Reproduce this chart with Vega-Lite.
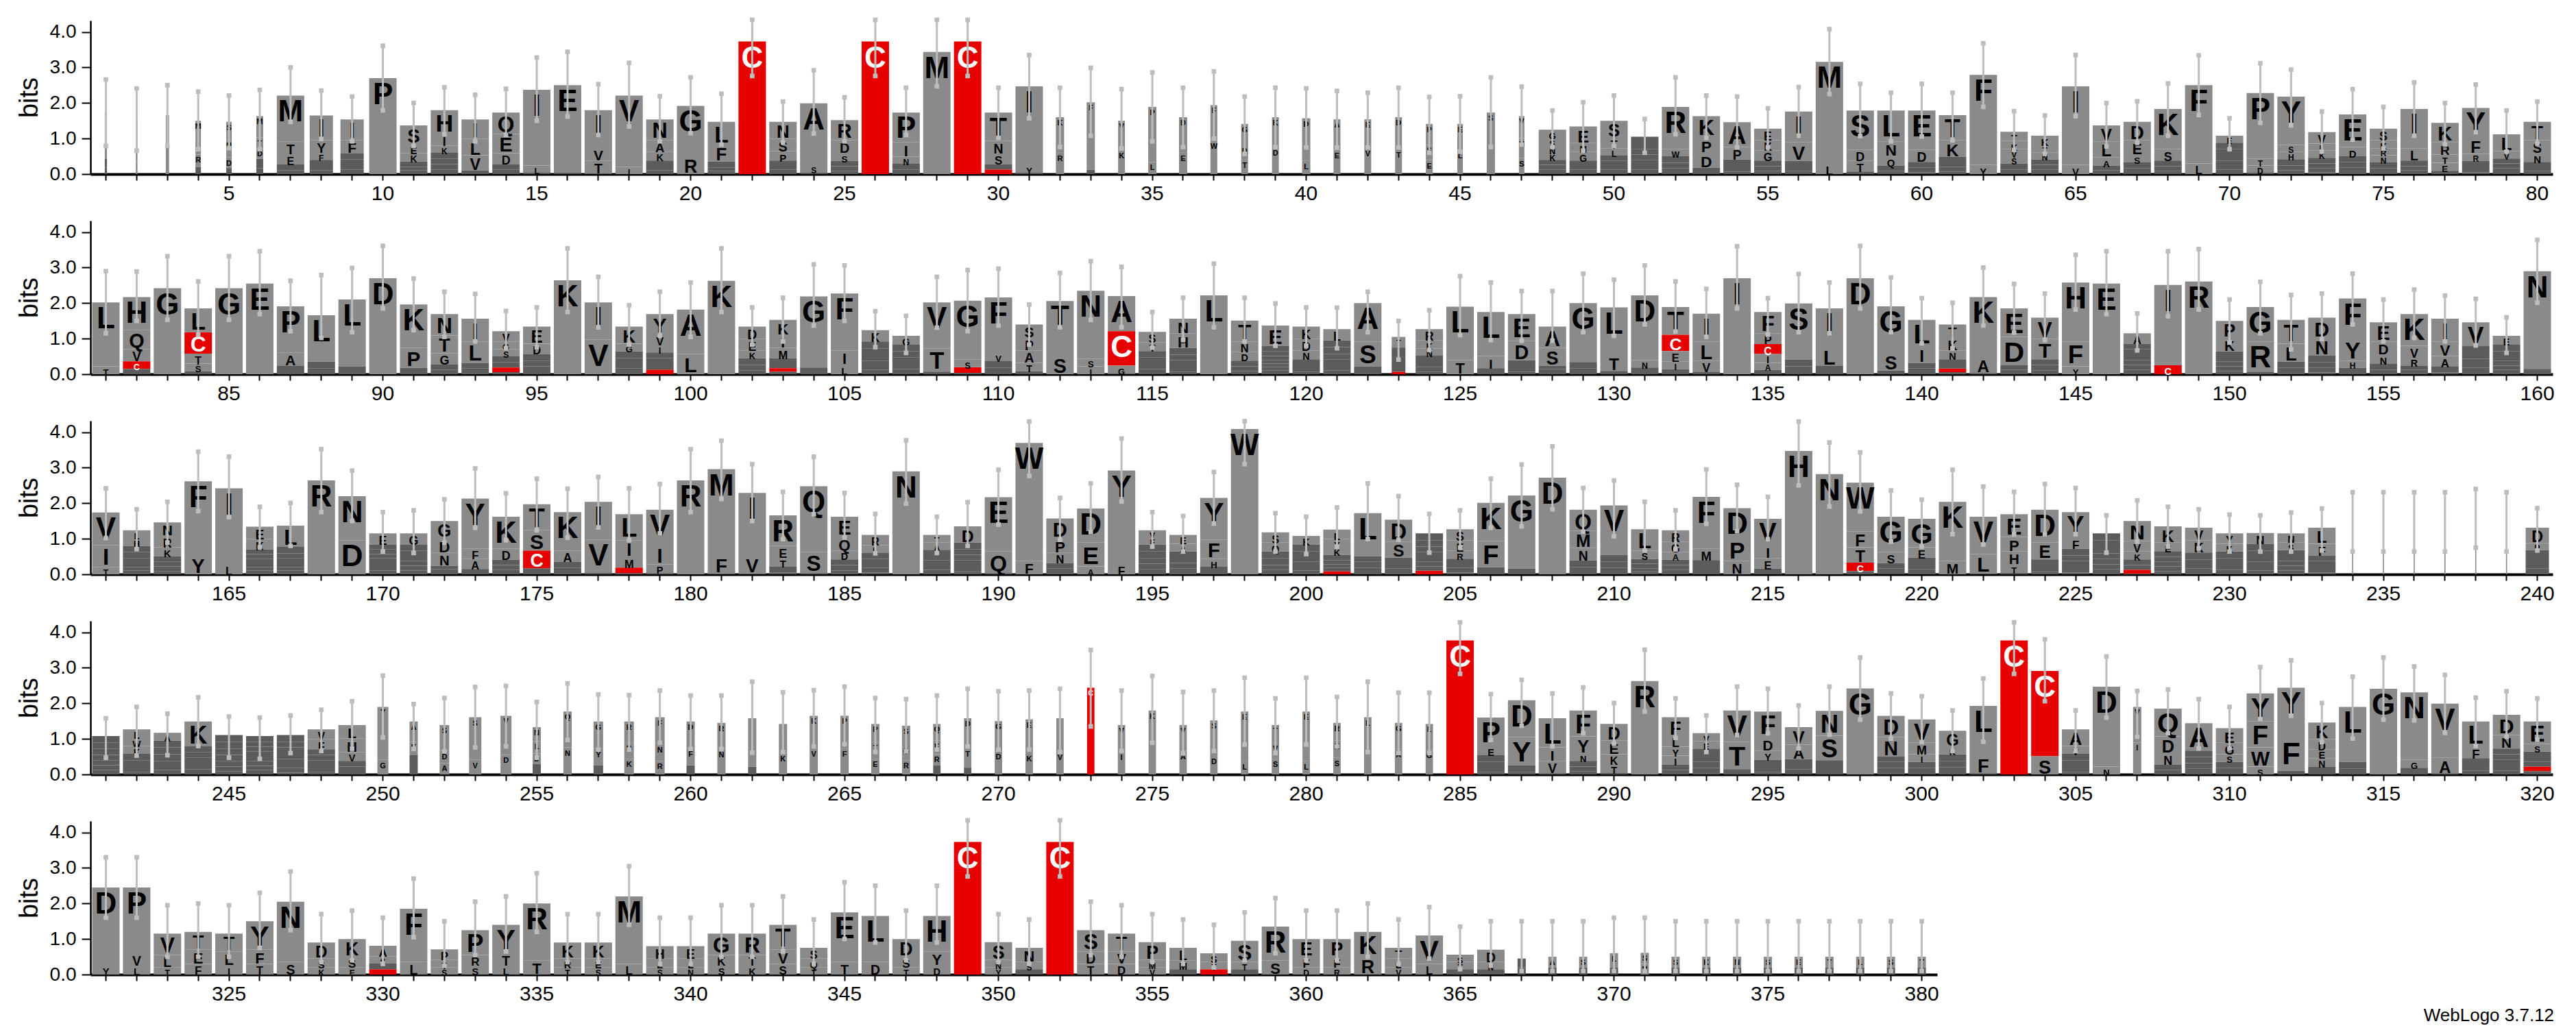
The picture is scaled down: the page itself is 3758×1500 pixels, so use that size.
{"$schema":"https://vega.github.io/schema/vega-lite/v6.json","padding":{"left":24,"top":25,"right":5,"bottom":5},"bounds":"flush","spacing":68,
"title":{"text":"WebLogo 3.7.12","orient":"bottom","anchor":"end","fontSize":26,"fontWeight":"normal","font":"Liberation Sans","color":"#000","offset":4},
"config":{"view":{"stroke":null},"font":"Liberation Sans","axis":{"grid":false,"domainColor":"#000","tickColor":"#000","labelColor":"#000","labelFont":"Liberation Sans","labelFontSize":28,"labelOverlap":false,"titleFont":"Liberation Sans","titleColor":"#000"},"axisX":{"domainWidth":4,"tickWidth":2,"tickSize":9,"labelPadding":4,"labelFlush":false,"labelAngle":0,"labelFontSize":30},"axisY":{"domainWidth":2.5,"tickWidth":2,"tickSize":13,"labelPadding":8,"titleFontSize":38,"titleFontWeight":"normal","titlePadding":10}},
"datasets":{
"L":[
{"p":1,"a":"I","h":1.3},{"p":1,"a":"L","h":0.25},{"p":1,"a":"V","h":0.18},
{"p":2,"a":"I","h":1.2},{"p":2,"a":"V","h":0.34},
{"p":3,"a":"M","h":1.1},{"p":3,"a":"T","h":0.56},
{"p":4,"a":"I","h":0.45},{"p":4,"a":"M","h":0.5},{"p":4,"a":"R","h":0.35},{"p":4,"a":"S","h":0.2},
{"p":5,"a":"N","h":0.5},{"p":5,"a":"D","h":0.3},{"p":5,"a":"S","h":0.5},{"p":5,"a":"P","h":0.17},
{"p":6,"a":"M","h":0.6},{"p":6,"a":"D","h":0.3},{"p":6,"a":"S","h":0.27},{"p":6,"a":"T","h":0.3},{"p":6,"a":"K","h":0.16},
{"p":7,"a":"M","h":1.3},{"p":7,"a":"T","h":0.35},{"p":7,"a":"E","h":0.28},{"p":7,"a":"I","h":0.18},{"p":7,"a":"V","h":0.1},
{"p":8,"a":"I","h":0.7},{"p":8,"a":"Y","h":0.35},{"p":8,"a":"F","h":0.2},{"p":8,"a":"L","h":0.15},{"p":8,"a":"S","h":0.1},{"p":8,"a":"V","h":0.15},
{"p":9,"a":"I","h":0.58},{"p":9,"a":"F","h":0.38},{"p":9,"a":"L","h":0.16},{"p":9,"a":"M","h":0.12},{"p":9,"a":"T","h":0.13},{"p":9,"a":"Y","h":0.17},
{"p":10,"a":"P","h":2.7},
{"p":11,"a":"S","h":0.52},{"p":11,"a":"E","h":0.26},{"p":11,"a":"K","h":0.24},{"p":11,"a":"D","h":0.1},{"p":11,"a":"N","h":0.1},{"p":11,"a":"R","h":0.15},
{"p":12,"a":"H","h":0.68},{"p":12,"a":"I","h":0.32},{"p":12,"a":"K","h":0.2},{"p":12,"a":"T","h":0.17},{"p":12,"a":"N","h":0.15},{"p":12,"a":"Y","h":0.13},{"p":12,"a":"S","h":0.15},
{"p":13,"a":"I","h":0.55},{"p":13,"a":"L","h":0.46},{"p":13,"a":"V","h":0.43},{"p":13,"a":"A","h":0.1},
{"p":14,"a":"Q","h":0.6},{"p":14,"a":"E","h":0.54},{"p":14,"a":"D","h":0.32},{"p":14,"a":"M","h":0.15},{"p":14,"a":"N","h":0.12},
{"p":15,"a":"I","h":2.13},{"p":15,"a":"L","h":0.2},{"p":15,"a":"V","h":0.04},
{"p":16,"a":"E","h":2.45},{"p":16,"a":"D","h":0.05},
{"p":17,"a":"I","h":1.05},{"p":17,"a":"T","h":0.35},{"p":17,"a":"V","h":0.38},{"p":17,"a":"L","h":0.02},
{"p":18,"a":"V","h":2.01},{"p":18,"a":"I","h":0.2},
{"p":19,"a":"N","h":0.58},{"p":19,"a":"A","h":0.33},{"p":19,"a":"K","h":0.25},{"p":19,"a":"H","h":0.15},{"p":19,"a":"S","h":0.12},{"p":19,"a":"T","h":0.11},
{"p":20,"a":"G","h":1.42},{"p":20,"a":"R","h":0.5},
{"p":21,"a":"L","h":0.64},{"p":21,"a":"F","h":0.48},{"p":21,"a":"A","h":0.17},{"p":21,"a":"T","h":0.1},{"p":21,"a":"S","h":0.08},
{"p":22,"a":"C","h":3.73},
{"p":23,"a":"N","h":0.48},{"p":23,"a":"S","h":0.35},{"p":23,"a":"P","h":0.26},{"p":23,"a":"D","h":0.13},{"p":23,"a":"T","h":0.13},{"p":23,"a":"A","h":0.12},
{"p":24,"a":"A","h":1.74},{"p":24,"a":"S","h":0.2},{"p":24,"a":"T","h":0.05},
{"p":25,"a":"R","h":0.56},{"p":25,"a":"D","h":0.36},{"p":25,"a":"S","h":0.23},{"p":25,"a":"H","h":0.15},{"p":25,"a":"N","h":0.13},{"p":25,"a":"K","h":0.09},
{"p":26,"a":"C","h":3.73},
{"p":27,"a":"P","h":0.84},{"p":27,"a":"I","h":0.4},{"p":27,"a":"N","h":0.2},{"p":27,"a":"V","h":0.13},{"p":27,"a":"T","h":0.16},
{"p":28,"a":"M","h":3.44},
{"p":29,"a":"C","h":3.73},
{"p":30,"a":"T","h":0.8},{"p":30,"a":"N","h":0.35},{"p":30,"a":"S","h":0.3},{"p":30,"a":"C","h":0.13},{"p":30,"a":"A","h":0.15},
{"p":31,"a":"I","h":2.2},{"p":31,"a":"Y","h":0.23},{"p":31,"a":"V","h":0.04},
{"p":32,"a":"K","h":1.0},{"p":32,"a":"R","h":0.6},
{"p":33,"a":"F","h":1.9},{"p":33,"a":"L","h":0.12},
{"p":34,"a":"V","h":0.82},{"p":34,"a":"K","h":0.68},
{"p":35,"a":"P","h":1.55},{"p":35,"a":"L","h":0.34},
{"p":36,"a":"D","h":1.0},{"p":36,"a":"E","h":0.6},
{"p":37,"a":"F","h":0.99},{"p":37,"a":"W","h":0.95},
{"p":38,"a":"G","h":0.6},{"p":38,"a":"T","h":0.4},{"p":38,"a":"D","h":0.41},
{"p":39,"a":"K","h":0.85},{"p":39,"a":"D","h":0.75},
{"p":40,"a":"D","h":1.2},{"p":40,"a":"L","h":0.37},
{"p":41,"a":"A","h":0.86},{"p":41,"a":"E","h":0.68},
{"p":42,"a":"E","h":0.8},{"p":42,"a":"V","h":0.74},
{"p":43,"a":"D","h":0.9},{"p":43,"a":"T","h":0.7},
{"p":44,"a":"P","h":0.59},{"p":44,"a":"E","h":0.39},{"p":44,"a":"S","h":0.43},
{"p":45,"a":"E","h":0.73},{"p":45,"a":"L","h":0.68},
{"p":46,"a":"S","h":1.73},
{"p":47,"a":"H","h":0.56},{"p":47,"a":"S","h":0.45},{"p":47,"a":"V","h":0.62},
{"p":48,"a":"G","h":0.23},{"p":48,"a":"K","h":0.2},{"p":48,"a":"N","h":0.21},{"p":48,"a":"D","h":0.14},{"p":48,"a":"E","h":0.13},{"p":48,"a":"H","h":0.13},{"p":48,"a":"S","h":0.21},
{"p":49,"a":"E","h":0.46},{"p":49,"a":"G","h":0.24},{"p":49,"a":"N","h":0.26},{"p":49,"a":"K","h":0.13},{"p":49,"a":"S","h":0.13},{"p":49,"a":"T","h":0.12},
{"p":50,"a":"S","h":0.48},{"p":50,"a":"T","h":0.3},{"p":50,"a":"I","h":0.13},{"p":50,"a":"M","h":0.12},{"p":50,"a":"Q","h":0.14},{"p":50,"a":"W","h":0.13},{"p":50,"a":"L","h":0.2},
{"p":51,"a":"A","h":0.16},{"p":51,"a":"P","h":0.16},{"p":51,"a":"R","h":0.15},{"p":51,"a":"S","h":0.18},{"p":51,"a":"T","h":0.13},{"p":51,"a":"L","h":0.12},{"p":51,"a":"V","h":0.15},
{"p":52,"a":"R","h":1.19},{"p":52,"a":"E","h":0.16},{"p":52,"a":"Q","h":0.16},{"p":52,"a":"T","h":0.18},{"p":52,"a":"W","h":0.2},
{"p":53,"a":"K","h":0.61},{"p":53,"a":"D","h":0.42},{"p":53,"a":"P","h":0.42},{"p":53,"a":"R","h":0.18},
{"p":54,"a":"A","h":0.7},{"p":54,"a":"P","h":0.35},{"p":54,"a":"K","h":0.18},{"p":54,"a":"R","h":0.16},{"p":54,"a":"S","h":0.07},
{"p":55,"a":"E","h":0.32},{"p":55,"a":"G","h":0.29},{"p":55,"a":"K","h":0.29},{"p":55,"a":"S","h":0.13},{"p":55,"a":"N","h":0.16},{"p":55,"a":"R","h":0.09},
{"p":56,"a":"I","h":0.87},{"p":56,"a":"V","h":0.52},{"p":56,"a":"F","h":0.13},{"p":56,"a":"L","h":0.16},{"p":56,"a":"E","h":0.08},
{"p":57,"a":"M","h":2.85},{"p":57,"a":"L","h":0.31},
{"p":58,"a":"S","h":1.1},{"p":58,"a":"D","h":0.32},{"p":58,"a":"T","h":0.3},{"p":58,"a":"N","h":0.07},
{"p":59,"a":"L","h":0.87},{"p":59,"a":"N","h":0.42},{"p":59,"a":"Q","h":0.26},{"p":59,"a":"Y","h":0.16},{"p":59,"a":"T","h":0.08},
{"p":60,"a":"E","h":1.1},{"p":60,"a":"D","h":0.35},{"p":60,"a":"I","h":0.13},{"p":60,"a":"K","h":0.16},{"p":60,"a":"Q","h":0.05},
{"p":61,"a":"T","h":0.71},{"p":61,"a":"K","h":0.46},{"p":61,"a":"D","h":0.13},{"p":61,"a":"M","h":0.16},{"p":61,"a":"N","h":0.13},{"p":61,"a":"Y","h":0.07},
{"p":62,"a":"F","h":2.53},{"p":62,"a":"Y","h":0.26},
{"p":63,"a":"T","h":0.26},{"p":63,"a":"K","h":0.23},{"p":63,"a":"S","h":0.2},{"p":63,"a":"E","h":0.18},{"p":63,"a":"M","h":0.12},{"p":63,"a":"V","h":0.2},
{"p":64,"a":"K","h":0.27},{"p":64,"a":"A","h":0.13},{"p":64,"a":"E","h":0.13},{"p":64,"a":"N","h":0.2},{"p":64,"a":"I","h":0.15},{"p":64,"a":"T","h":0.2},
{"p":65,"a":"I","h":2.21},{"p":65,"a":"V","h":0.26},
{"p":66,"a":"L","h":0.45},{"p":66,"a":"V","h":0.45},{"p":66,"a":"A","h":0.23},{"p":66,"a":"I","h":0.13},{"p":66,"a":"N","h":0.11},
{"p":67,"a":"D","h":0.52},{"p":67,"a":"E","h":0.39},{"p":67,"a":"S","h":0.23},{"p":67,"a":"K","h":0.13},{"p":67,"a":"N","h":0.16},{"p":67,"a":"T","h":0.04},
{"p":68,"a":"K","h":1.13},{"p":68,"a":"S","h":0.32},{"p":68,"a":"N","h":0.13},{"p":68,"a":"R","h":0.16},{"p":68,"a":"L","h":0.09},
{"p":69,"a":"F","h":2.2},{"p":69,"a":"L","h":0.3},
{"p":70,"a":"E","h":0.2},{"p":70,"a":"G","h":0.17},{"p":70,"a":"K","h":0.17},{"p":70,"a":"I","h":0.13},{"p":70,"a":"T","h":0.12},{"p":70,"a":"V","h":0.13},{"p":70,"a":"S","h":0.16},
{"p":71,"a":"P","h":1.84},{"p":71,"a":"D","h":0.2},{"p":71,"a":"T","h":0.2},{"p":71,"a":"N","h":0.04},
{"p":72,"a":"Y","h":1.36},{"p":72,"a":"H","h":0.2},{"p":72,"a":"I","h":0.18},{"p":72,"a":"N","h":0.13},{"p":72,"a":"S","h":0.2},{"p":72,"a":"L","h":0.11},
{"p":73,"a":"V","h":0.32},{"p":73,"a":"K","h":0.2},{"p":73,"a":"L","h":0.2},{"p":73,"a":"H","h":0.12},{"p":73,"a":"M","h":0.13},{"p":73,"a":"P","h":0.16},{"p":73,"a":"S","h":0.05},
{"p":74,"a":"E","h":0.92},{"p":74,"a":"D","h":0.26},{"p":74,"a":"G","h":0.15},{"p":74,"a":"H","h":0.16},{"p":74,"a":"Q","h":0.16},{"p":74,"a":"N","h":0.03},
{"p":75,"a":"S","h":0.32},{"p":75,"a":"K","h":0.23},{"p":75,"a":"N","h":0.2},{"p":75,"a":"R","h":0.2},{"p":75,"a":"Q","h":0.16},{"p":75,"a":"Y","h":0.13},{"p":75,"a":"D","h":0.04},
{"p":76,"a":"I","h":1.1},{"p":76,"a":"L","h":0.35},{"p":76,"a":"Q","h":0.12},{"p":76,"a":"E","h":0.1},{"p":76,"a":"V","h":0.16},
{"p":77,"a":"K","h":0.55},{"p":77,"a":"R","h":0.34},{"p":77,"a":"E","h":0.23},{"p":77,"a":"T","h":0.23},{"p":77,"a":"L","h":0.09},
{"p":78,"a":"Y","h":0.84},{"p":78,"a":"F","h":0.45},{"p":78,"a":"A","h":0.16},{"p":78,"a":"R","h":0.2},{"p":78,"a":"S","h":0.16},{"p":78,"a":"E","h":0.05},
{"p":79,"a":"L","h":0.48},{"p":79,"a":"T","h":0.13},{"p":79,"a":"V","h":0.2},{"p":79,"a":"E","h":0.13},{"p":79,"a":"H","h":0.14},{"p":79,"a":"S","h":0.04},
{"p":80,"a":"T","h":0.52},{"p":80,"a":"S","h":0.35},{"p":80,"a":"N","h":0.26},{"p":80,"a":"I","h":0.13},{"p":80,"a":"V","h":0.13},{"p":80,"a":"H","h":0.08},
{"p":81,"a":"L","h":1.8},{"p":81,"a":"T","h":0.22},
{"p":82,"a":"H","h":0.92},{"p":82,"a":"Q","h":0.54},{"p":82,"a":"V","h":0.35},{"p":82,"a":"C","h":0.21},{"p":82,"a":"T","h":0.15},
{"p":83,"a":"G","h":2.42},
{"p":84,"a":"C","h":0.6},{"p":84,"a":"L","h":0.67},{"p":84,"a":"T","h":0.28},{"p":84,"a":"S","h":0.22},{"p":84,"a":"I","h":0.08},
{"p":85,"a":"G","h":2.42},
{"p":86,"a":"E","h":2.55},
{"p":87,"a":"P","h":1.3},{"p":87,"a":"A","h":0.38},{"p":87,"a":"T","h":0.19},{"p":87,"a":"S","h":0.04},
{"p":88,"a":"L","h":1.31},{"p":88,"a":"I","h":0.16},{"p":88,"a":"M","h":0.19},
{"p":89,"a":"L","h":1.88},{"p":89,"a":"M","h":0.19},{"p":89,"a":"I","h":0.03},
{"p":90,"a":"D","h":2.7},
{"p":91,"a":"K","h":1.22},{"p":91,"a":"P","h":0.56},{"p":91,"a":"D","h":0.16},{"p":91,"a":"E","h":0.02},
{"p":92,"a":"N","h":0.6},{"p":92,"a":"T","h":0.5},{"p":92,"a":"G","h":0.32},{"p":92,"a":"R","h":0.15},{"p":92,"a":"Y","h":0.12},
{"p":93,"a":"I","h":0.64},{"p":93,"a":"L","h":0.6},{"p":93,"a":"R","h":0.16},{"p":93,"a":"Y","h":0.13},{"p":93,"a":"V","h":0.03},
{"p":94,"a":"V","h":0.29},{"p":94,"a":"G","h":0.22},{"p":94,"a":"S","h":0.2},{"p":94,"a":"A","h":0.15},{"p":94,"a":"C","h":0.13},{"p":94,"a":"F","h":0.16},{"p":94,"a":"T","h":0.06},
{"p":95,"a":"E","h":0.48},{"p":95,"a":"D","h":0.29},{"p":95,"a":"K","h":0.19},{"p":95,"a":"P","h":0.16},{"p":95,"a":"Y","h":0.16},{"p":95,"a":"S","h":0.06},
{"p":96,"a":"K","h":2.64},
{"p":97,"a":"I","h":1.05},{"p":97,"a":"V","h":0.97},
{"p":98,"a":"K","h":0.48},{"p":98,"a":"G","h":0.22},{"p":98,"a":"Q","h":0.19},{"p":98,"a":"A","h":0.16},{"p":98,"a":"N","h":0.13},{"p":98,"a":"R","h":0.13},{"p":98,"a":"S","h":0.03},
{"p":99,"a":"Y","h":0.57},{"p":99,"a":"I","h":0.22},{"p":99,"a":"V","h":0.29},{"p":99,"a":"C","h":0.13},{"p":99,"a":"F","h":0.16},{"p":99,"a":"M","h":0.16},{"p":99,"a":"L","h":0.16},
{"p":100,"a":"A","h":1.25},{"p":100,"a":"L","h":0.57},
{"p":101,"a":"K","h":2.63},
{"p":102,"a":"D","h":0.35},{"p":102,"a":"E","h":0.32},{"p":102,"a":"K","h":0.22},{"p":102,"a":"S","h":0.19},{"p":102,"a":"R","h":0.16},{"p":102,"a":"T","h":0.1},
{"p":103,"a":"I","h":0.38},{"p":103,"a":"K","h":0.41},{"p":103,"a":"M","h":0.29},{"p":103,"a":"A","h":0.12},{"p":103,"a":"C","h":0.1},{"p":103,"a":"R","h":0.16},{"p":103,"a":"S","h":0.07},
{"p":104,"a":"G","h":2.0},{"p":104,"a":"N","h":0.19},
{"p":105,"a":"F","h":1.6},{"p":105,"a":"I","h":0.4},{"p":105,"a":"L","h":0.27},
{"p":106,"a":"K","h":0.32},{"p":106,"a":"E","h":0.19},{"p":106,"a":"P","h":0.16},{"p":106,"a":"R","h":0.19},{"p":106,"a":"S","h":0.13},{"p":106,"a":"T","h":0.13},{"p":106,"a":"N","h":0.12},
{"p":107,"a":"G","h":0.25},{"p":107,"a":"E","h":0.18},{"p":107,"a":"S","h":0.18},{"p":107,"a":"N","h":0.16},{"p":107,"a":"T","h":0.15},{"p":107,"a":"D","h":0.16},
{"p":108,"a":"V","h":1.29},{"p":108,"a":"T","h":0.66},{"p":108,"a":"L","h":0.07},
{"p":109,"a":"G","h":1.66},{"p":109,"a":"C","h":0.16},{"p":109,"a":"S","h":0.21},{"p":109,"a":"A","h":0.04},
{"p":110,"a":"F","h":1.56},{"p":110,"a":"I","h":0.19},{"p":110,"a":"L","h":0.19},{"p":110,"a":"V","h":0.22},
{"p":111,"a":"A","h":0.35},{"p":111,"a":"P","h":0.35},{"p":111,"a":"S","h":0.38},{"p":111,"a":"T","h":0.24},{"p":111,"a":"V","h":0.08},
{"p":112,"a":"T","h":1.52},{"p":112,"a":"S","h":0.54},
{"p":113,"a":"N","h":1.91},{"p":113,"a":"I","h":0.22},{"p":113,"a":"S","h":0.22},
{"p":114,"a":"A","h":0.99},{"p":114,"a":"C","h":0.97},{"p":114,"a":"G","h":0.22},{"p":114,"a":"S","h":0.02},
{"p":115,"a":"S","h":0.29},{"p":115,"a":"T","h":0.25},{"p":115,"a":"V","h":0.18},{"p":115,"a":"A","h":0.15},{"p":115,"a":"H","h":0.16},{"p":115,"a":"N","h":0.16},
{"p":116,"a":"H","h":0.41},{"p":116,"a":"N","h":0.41},{"p":116,"a":"A","h":0.19},{"p":116,"a":"E","h":0.16},{"p":116,"a":"L","h":0.16},{"p":116,"a":"M","h":0.16},{"p":116,"a":"S","h":0.07},
{"p":117,"a":"L","h":2.22},
{"p":118,"a":"T","h":0.59},{"p":118,"a":"D","h":0.25},{"p":118,"a":"N","h":0.29},{"p":118,"a":"E","h":0.13},{"p":118,"a":"S","h":0.16},{"p":118,"a":"K","h":0.09},
{"p":119,"a":"E","h":0.57},{"p":119,"a":"A","h":0.16},{"p":119,"a":"D","h":0.1},{"p":119,"a":"R","h":0.1},{"p":119,"a":"K","h":0.1},{"p":119,"a":"T","h":0.1},{"p":119,"a":"Y","h":0.13},{"p":119,"a":"S","h":0.11},
{"p":120,"a":"D","h":0.32},{"p":120,"a":"K","h":0.35},{"p":120,"a":"N","h":0.25},{"p":120,"a":"E","h":0.19},{"p":120,"a":"R","h":0.16},{"p":120,"a":"S","h":0.07},
{"p":121,"a":"L","h":0.32},{"p":121,"a":"M","h":0.19},{"p":121,"a":"R","h":0.19},{"p":121,"a":"V","h":0.16},{"p":121,"a":"I","h":0.1},{"p":121,"a":"K","h":0.16},{"p":121,"a":"S","h":0.15},
{"p":122,"a":"A","h":1.08},{"p":122,"a":"S","h":0.7},{"p":122,"a":"T","h":0.19},{"p":122,"a":"I","h":0.03},
{"p":123,"a":"T","h":0.3},{"p":123,"a":"C","h":0.07},{"p":123,"a":"I","h":0.25},{"p":123,"a":"V","h":0.2},{"p":123,"a":"S","h":0.23},
{"p":124,"a":"R","h":0.32},{"p":124,"a":"E","h":0.19},{"p":124,"a":"K","h":0.22},{"p":124,"a":"N","h":0.21},{"p":124,"a":"S","h":0.13},{"p":124,"a":"T","h":0.13},{"p":124,"a":"Q","h":0.07},
{"p":125,"a":"L","h":1.5},{"p":125,"a":"T","h":0.4},
{"p":126,"a":"L","h":1.24},{"p":126,"a":"I","h":0.34},{"p":126,"a":"F","h":0.17},
{"p":127,"a":"E","h":0.76},{"p":127,"a":"D","h":0.54},{"p":127,"a":"A","h":0.16},{"p":127,"a":"Q","h":0.16},{"p":127,"a":"S","h":0.07},
{"p":128,"a":"A","h":0.6},{"p":128,"a":"S","h":0.5},{"p":128,"a":"T","h":0.1},{"p":128,"a":"K","h":0.1},{"p":128,"a":"Q","h":0.04},
{"p":129,"a":"G","h":1.66},{"p":129,"a":"D","h":0.18},{"p":129,"a":"K","h":0.16},
{"p":130,"a":"L","h":1.34},{"p":130,"a":"T","h":0.45},{"p":130,"a":"V","h":0.09},
{"p":131,"a":"D","h":1.82},{"p":131,"a":"N","h":0.21},{"p":131,"a":"S","h":0.19},
{"p":132,"a":"T","h":0.78},{"p":132,"a":"C","h":0.46},{"p":132,"a":"E","h":0.29},{"p":132,"a":"I","h":0.22},{"p":132,"a":"V","h":0.14},
{"p":133,"a":"I","h":0.78},{"p":133,"a":"L","h":0.54},{"p":133,"a":"V","h":0.32},{"p":133,"a":"F","h":0.06},
{"p":134,"a":"I","h":2.7},
{"p":135,"a":"F","h":0.6},{"p":135,"a":"C","h":0.28},{"p":135,"a":"I","h":0.25},{"p":135,"a":"P","h":0.3},{"p":135,"a":"A","h":0.2},{"p":135,"a":"G","h":0.12},
{"p":136,"a":"S","h":1.58},{"p":136,"a":"A","h":0.16},{"p":136,"a":"G","h":0.19},{"p":136,"a":"V","h":0.06},
{"p":137,"a":"I","h":1.08},{"p":137,"a":"L","h":0.54},{"p":137,"a":"V","h":0.19},{"p":137,"a":"A","h":0.04},
{"p":138,"a":"D","h":2.7},
{"p":139,"a":"G","h":1.31},{"p":139,"a":"S","h":0.5},{"p":139,"a":"M","h":0.1},
{"p":140,"a":"L","h":0.76},{"p":140,"a":"I","h":0.45},{"p":140,"a":"F","h":0.16},{"p":140,"a":"M","h":0.16},
{"p":141,"a":"K","h":0.35},{"p":141,"a":"T","h":0.38},{"p":141,"a":"N","h":0.25},{"p":141,"a":"C","h":0.1},{"p":141,"a":"R","h":0.13},{"p":141,"a":"S","h":0.13},{"p":141,"a":"E","h":0.06},
{"p":142,"a":"K","h":1.69},{"p":142,"a":"A","h":0.45},{"p":142,"a":"S","h":0.03},
{"p":143,"a":"D","h":0.8},{"p":143,"a":"E","h":0.8},{"p":143,"a":"A","h":0.13},{"p":143,"a":"R","h":0.12},
{"p":144,"a":"V","h":0.6},{"p":144,"a":"T","h":0.57},{"p":144,"a":"A","h":0.16},{"p":144,"a":"R","h":0.16},{"p":144,"a":"Y","h":0.1},
{"p":145,"a":"H","h":1.66},{"p":145,"a":"F","h":0.7},{"p":145,"a":"Y","h":0.22},
{"p":146,"a":"E","h":2.55},
{"p":147,"a":"A","h":0.29},{"p":147,"a":"G","h":0.16},{"p":147,"a":"Q","h":0.14},{"p":147,"a":"S","h":0.13},{"p":147,"a":"K","h":0.13},{"p":147,"a":"T","h":0.16},{"p":147,"a":"N","h":0.14},
{"p":148,"a":"I","h":2.26},{"p":148,"a":"C","h":0.25},
{"p":149,"a":"R","h":2.61},
{"p":150,"a":"P","h":0.48},{"p":150,"a":"K","h":0.38},{"p":150,"a":"I","h":0.13},{"p":150,"a":"M","h":0.13},{"p":150,"a":"Q","h":0.13},{"p":150,"a":"R","h":0.16},{"p":150,"a":"S","h":0.09},
{"p":151,"a":"G","h":0.97},{"p":151,"a":"R","h":0.86},{"p":151,"a":"K","h":0.06},
{"p":152,"a":"T","h":0.67},{"p":152,"a":"L","h":0.51},{"p":152,"a":"I","h":0.16},{"p":152,"a":"Y","h":0.16},{"p":152,"a":"S","h":0.03},
{"p":153,"a":"D","h":0.57},{"p":153,"a":"N","h":0.5},{"p":153,"a":"K","h":0.18},{"p":153,"a":"S","h":0.13},{"p":153,"a":"Y","h":0.16},{"p":153,"a":"R","h":0.05},
{"p":154,"a":"F","h":1.11},{"p":154,"a":"Y","h":0.64},{"p":154,"a":"H","h":0.2},{"p":154,"a":"R","h":0.16},{"p":154,"a":"N","h":0.02},
{"p":155,"a":"E","h":0.54},{"p":155,"a":"D","h":0.38},{"p":155,"a":"N","h":0.25},{"p":155,"a":"Q","h":0.13},{"p":155,"a":"T","h":0.16},
{"p":156,"a":"K","h":0.89},{"p":156,"a":"R","h":0.25},{"p":156,"a":"V","h":0.32},{"p":156,"a":"Q","h":0.1},{"p":156,"a":"T","h":0.1},{"p":156,"a":"E","h":0.03},
{"p":157,"a":"I","h":0.64},{"p":157,"a":"V","h":0.41},{"p":157,"a":"A","h":0.3},{"p":157,"a":"T","h":0.16},{"p":157,"a":"Q","h":0.05},
{"p":158,"a":"V","h":0.67},{"p":158,"a":"I","h":0.12},{"p":158,"a":"K","h":0.13},{"p":158,"a":"L","h":0.19},{"p":158,"a":"M","h":0.16},{"p":158,"a":"Y","h":0.13},{"p":158,"a":"E","h":0.06},
{"p":159,"a":"E","h":0.25},{"p":159,"a":"K","h":0.19},{"p":159,"a":"I","h":0.14},{"p":159,"a":"V","h":0.13},{"p":159,"a":"H","h":0.12},{"p":159,"a":"S","h":0.13},{"p":159,"a":"D","h":0.12},
{"p":160,"a":"N","h":2.75},{"p":160,"a":"T","h":0.15},
{"p":161,"a":"V","h":0.92},{"p":161,"a":"I","h":0.62},{"p":161,"a":"T","h":0.2},
{"p":162,"a":"E","h":0.16},{"p":162,"a":"H","h":0.22},{"p":162,"a":"K","h":0.18},{"p":162,"a":"L","h":0.22},{"p":162,"a":"D","h":0.1},{"p":162,"a":"S","h":0.13},{"p":162,"a":"R","h":0.13},{"p":162,"a":"A","h":0.1},
{"p":163,"a":"N","h":0.38},{"p":163,"a":"R","h":0.32},{"p":163,"a":"K","h":0.25},{"p":163,"a":"D","h":0.13},{"p":163,"a":"F","h":0.16},{"p":163,"a":"M","h":0.13},{"p":163,"a":"Q","h":0.09},
{"p":164,"a":"F","h":2.08},{"p":164,"a":"Y","h":0.54},
{"p":165,"a":"I","h":2.13},{"p":165,"a":"L","h":0.29},
{"p":166,"a":"E","h":0.35},{"p":166,"a":"L","h":0.1},{"p":166,"a":"K","h":0.29},{"p":166,"a":"D","h":0.13},{"p":166,"a":"M","h":0.13},{"p":166,"a":"N","h":0.1},{"p":166,"a":"Q","h":0.13},{"p":166,"a":"R","h":0.11},
{"p":167,"a":"L","h":0.6},{"p":167,"a":"T","h":0.13},{"p":167,"a":"K","h":0.1},{"p":167,"a":"Q","h":0.1},{"p":167,"a":"R","h":0.13},{"p":167,"a":"Y","h":0.13},{"p":167,"a":"I","h":0.18},
{"p":168,"a":"R","h":2.64},
{"p":169,"a":"N","h":1.24},{"p":169,"a":"D","h":0.96},
{"p":170,"a":"E","h":0.32},{"p":170,"a":"G","h":0.13},{"p":170,"a":"A","h":0.13},{"p":170,"a":"S","h":0.12},{"p":170,"a":"N","h":0.12},{"p":170,"a":"K","h":0.12},{"p":170,"a":"R","h":0.11},{"p":170,"a":"D","h":0.1},
{"p":171,"a":"G","h":0.32},{"p":171,"a":"L","h":0.16},{"p":171,"a":"H","h":0.15},{"p":171,"a":"I","h":0.15},{"p":171,"a":"K","h":0.13},{"p":171,"a":"T","h":0.13},{"p":171,"a":"S","h":0.11},
{"p":172,"a":"G","h":0.48},{"p":172,"a":"D","h":0.41},{"p":172,"a":"N","h":0.37},{"p":172,"a":"H","h":0.1},{"p":172,"a":"K","h":0.1},{"p":172,"a":"T","h":0.04},
{"p":173,"a":"Y","h":1.4},{"p":173,"a":"A","h":0.29},{"p":173,"a":"F","h":0.29},{"p":173,"a":"G","h":0.15},
{"p":174,"a":"K","h":0.89},{"p":174,"a":"D","h":0.32},{"p":174,"a":"A","h":0.13},{"p":174,"a":"E","h":0.13},{"p":174,"a":"N","h":0.15},
{"p":175,"a":"T","h":0.73},{"p":175,"a":"C","h":0.5},{"p":175,"a":"S","h":0.57},{"p":175,"a":"K","h":0.17},
{"p":176,"a":"K","h":1.08},{"p":176,"a":"A","h":0.32},{"p":176,"a":"R","h":0.16},{"p":176,"a":"T","h":0.16},{"p":176,"a":"S","h":0.03},
{"p":177,"a":"I","h":1.06},{"p":177,"a":"V","h":0.94},{"p":177,"a":"L","h":0.04},
{"p":178,"a":"L","h":0.73},{"p":178,"a":"I","h":0.48},{"p":178,"a":"M","h":0.29},{"p":178,"a":"C","h":0.16},{"p":178,"a":"V","h":0.03},
{"p":179,"a":"V","h":0.99},{"p":179,"a":"I","h":0.55},{"p":179,"a":"P","h":0.25},{"p":179,"a":"L","h":0.03},
{"p":180,"a":"R","h":2.64},
{"p":181,"a":"M","h":2.42},{"p":181,"a":"F","h":0.52},{"p":181,"a":"L","h":0.02},
{"p":182,"a":"I","h":1.75},{"p":182,"a":"V","h":0.52},{"p":182,"a":"L","h":0.02},
{"p":183,"a":"R","h":0.86},{"p":183,"a":"E","h":0.32},{"p":183,"a":"T","h":0.27},{"p":183,"a":"L","h":0.16},{"p":183,"a":"K","h":0.05},
{"p":184,"a":"Q","h":1.85},{"p":184,"a":"S","h":0.6},{"p":184,"a":"E","h":0.03},
{"p":185,"a":"E","h":0.54},{"p":185,"a":"Q","h":0.41},{"p":185,"a":"D","h":0.25},{"p":185,"a":"H","h":0.16},{"p":185,"a":"M","h":0.16},{"p":185,"a":"K","h":0.1},
{"p":186,"a":"L","h":0.22},{"p":186,"a":"R","h":0.29},{"p":186,"a":"S","h":0.16},{"p":186,"a":"K","h":0.13},{"p":186,"a":"E","h":0.13},{"p":186,"a":"T","h":0.13},{"p":186,"a":"D","h":0.05},
{"p":187,"a":"N","h":2.9},
{"p":188,"a":"T","h":0.22},{"p":188,"a":"A","h":0.2},{"p":188,"a":"N","h":0.15},{"p":188,"a":"S","h":0.15},{"p":188,"a":"E","h":0.12},{"p":188,"a":"V","h":0.13},{"p":188,"a":"Y","h":0.14},
{"p":189,"a":"D","h":0.46},{"p":189,"a":"H","h":0.18},{"p":189,"a":"A","h":0.16},{"p":189,"a":"L","h":0.16},{"p":189,"a":"S","h":0.16},{"p":189,"a":"T","h":0.16},{"p":189,"a":"E","h":0.07},
{"p":190,"a":"E","h":1.53},{"p":190,"a":"Q","h":0.61},{"p":190,"a":"D","h":0.03},
{"p":191,"a":"W","h":3.32},{"p":191,"a":"F","h":0.38},
{"p":192,"a":"D","h":0.55},{"p":192,"a":"P","h":0.41},{"p":192,"a":"N","h":0.29},{"p":192,"a":"E","h":0.16},{"p":192,"a":"Q","h":0.13},{"p":192,"a":"S","h":0.03},
{"p":193,"a":"D","h":0.96},{"p":193,"a":"E","h":0.67},{"p":193,"a":"A","h":0.22},
{"p":194,"a":"Y","h":2.61},{"p":194,"a":"F","h":0.31},
{"p":195,"a":"F","h":0.2},{"p":195,"a":"N","h":0.19},{"p":195,"a":"R","h":0.19},{"p":195,"a":"V","h":0.2},{"p":195,"a":"K","h":0.15},{"p":195,"a":"S","h":0.15},{"p":195,"a":"T","h":0.16},
{"p":196,"a":"E","h":0.25},{"p":196,"a":"A","h":0.22},{"p":196,"a":"T","h":0.16},{"p":196,"a":"R","h":0.16},{"p":196,"a":"S","h":0.16},{"p":196,"a":"V","h":0.13},{"p":196,"a":"K","h":0.03},
{"p":197,"a":"Y","h":1.17},{"p":197,"a":"F","h":0.55},{"p":197,"a":"H","h":0.22},{"p":197,"a":"L","h":0.19},{"p":197,"a":"N","h":0.02},
{"p":198,"a":"W","h":4.09},
{"p":199,"a":"S","h":0.29},{"p":199,"a":"Q","h":0.25},{"p":199,"a":"R","h":0.19},{"p":199,"a":"E","h":0.19},{"p":199,"a":"T","h":0.13},{"p":199,"a":"D","h":0.13},
{"p":200,"a":"K","h":0.25},{"p":200,"a":"G","h":0.19},{"p":200,"a":"S","h":0.16},{"p":200,"a":"N","h":0.13},{"p":200,"a":"E","h":0.12},{"p":200,"a":"T","h":0.12},{"p":200,"a":"R","h":0.11},
{"p":201,"a":"L","h":0.27},{"p":201,"a":"K","h":0.22},{"p":201,"a":"Y","h":0.22},{"p":201,"a":"A","h":0.1},{"p":201,"a":"C","h":0.08},{"p":201,"a":"S","h":0.15},{"p":201,"a":"G","h":0.12},{"p":201,"a":"D","h":0.1},
{"p":202,"a":"L","h":1.21},{"p":202,"a":"I","h":0.16},{"p":202,"a":"M","h":0.15},{"p":202,"a":"V","h":0.16},{"p":202,"a":"T","h":0.04},
{"p":203,"a":"D","h":0.62},{"p":203,"a":"S","h":0.45},{"p":203,"a":"N","h":0.15},{"p":203,"a":"R","h":0.13},{"p":203,"a":"T","h":0.16},{"p":203,"a":"K","h":0.03},
{"p":204,"a":"P","h":0.19},{"p":204,"a":"S","h":0.18},{"p":204,"a":"C","h":0.1},{"p":204,"a":"H","h":0.12},{"p":204,"a":"N","h":0.13},{"p":204,"a":"T","h":0.13},{"p":204,"a":"E","h":0.15},{"p":204,"a":"G","h":0.15},
{"p":205,"a":"E","h":0.29},{"p":205,"a":"S","h":0.32},{"p":205,"a":"R","h":0.22},{"p":205,"a":"K","h":0.13},{"p":205,"a":"N","h":0.13},{"p":205,"a":"T","h":0.13},{"p":205,"a":"Q","h":0.05},
{"p":206,"a":"K","h":1.08},{"p":206,"a":"F","h":0.73},{"p":206,"a":"R","h":0.16},{"p":206,"a":"N","h":0.04},
{"p":207,"a":"G","h":2.06},{"p":207,"a":"N","h":0.16},
{"p":208,"a":"D","h":2.72},
{"p":209,"a":"Q","h":0.6},{"p":209,"a":"M","h":0.48},{"p":209,"a":"N","h":0.35},{"p":209,"a":"E","h":0.19},{"p":209,"a":"K","h":0.16},{"p":209,"a":"T","h":0.04},
{"p":210,"a":"V","h":1.4},{"p":210,"a":"F","h":0.17},{"p":210,"a":"I","h":0.16},{"p":210,"a":"L","h":0.19},{"p":210,"a":"A","h":0.02},
{"p":211,"a":"L","h":0.6},{"p":211,"a":"S","h":0.24},{"p":211,"a":"A","h":0.13},{"p":211,"a":"V","h":0.13},{"p":211,"a":"I","h":0.1},{"p":211,"a":"T","h":0.07},
{"p":212,"a":"G","h":0.29},{"p":212,"a":"R","h":0.32},{"p":212,"a":"A","h":0.22},{"p":212,"a":"V","h":0.15},{"p":212,"a":"L","h":0.13},{"p":212,"a":"Y","h":0.13},
{"p":213,"a":"F","h":1.45},{"p":213,"a":"M","h":0.33},{"p":213,"a":"L","h":0.19},{"p":213,"a":"Y","h":0.19},{"p":213,"a":"W","h":0.02},
{"p":214,"a":"D","h":0.84},{"p":214,"a":"P","h":0.64},{"p":214,"a":"N","h":0.38},
{"p":215,"a":"V","h":0.73},{"p":215,"a":"I","h":0.38},{"p":215,"a":"E","h":0.29},{"p":215,"a":"R","h":0.16},
{"p":216,"a":"H","h":3.47},
{"p":217,"a":"N","h":2.82},
{"p":218,"a":"W","h":1.37},{"p":218,"a":"F","h":0.45},{"p":218,"a":"T","h":0.43},{"p":218,"a":"C","h":0.24},{"p":218,"a":"Y","h":0.09},
{"p":219,"a":"G","h":0.99},{"p":219,"a":"S","h":0.31},{"p":219,"a":"A","h":0.15},{"p":219,"a":"D","h":0.16},{"p":219,"a":"E","h":0.01},
{"p":220,"a":"G","h":0.8},{"p":220,"a":"E","h":0.29},{"p":220,"a":"D","h":0.13},{"p":220,"a":"Q","h":0.16},{"p":220,"a":"S","h":0.16},{"p":220,"a":"N","h":0.02},
{"p":221,"a":"K","h":1.66},{"p":221,"a":"M","h":0.38},
{"p":222,"a":"V","h":1.05},{"p":222,"a":"L","h":0.56},{"p":222,"a":"I","h":0.01},
{"p":223,"a":"E","h":0.64},{"p":223,"a":"H","h":0.38},{"p":223,"a":"P","h":0.4},{"p":223,"a":"T","h":0.22},{"p":223,"a":"N","h":0.05},
{"p":224,"a":"D","h":0.92},{"p":224,"a":"E","h":0.48},{"p":224,"a":"H","h":0.19},{"p":224,"a":"N","h":0.16},{"p":224,"a":"K","h":0.07},
{"p":225,"a":"Y","h":0.73},{"p":225,"a":"F","h":0.3},{"p":225,"a":"A","h":0.16},{"p":225,"a":"D","h":0.16},{"p":225,"a":"H","h":0.19},{"p":225,"a":"K","h":0.16},{"p":225,"a":"N","h":0.05},
{"p":226,"a":"D","h":0.19},{"p":226,"a":"E","h":0.18},{"p":226,"a":"G","h":0.16},{"p":226,"a":"P","h":0.19},{"p":226,"a":"H","h":0.15},{"p":226,"a":"N","h":0.14},{"p":226,"a":"K","h":0.14},
{"p":227,"a":"N","h":0.57},{"p":227,"a":"K","h":0.22},{"p":227,"a":"V","h":0.29},{"p":227,"a":"C","h":0.11},{"p":227,"a":"D","h":0.13},{"p":227,"a":"T","h":0.16},{"p":227,"a":"L","h":0.02},
{"p":228,"a":"K","h":0.46},{"p":228,"a":"E","h":0.24},{"p":228,"a":"A","h":0.16},{"p":228,"a":"S","h":0.14},{"p":228,"a":"M","h":0.13},{"p":228,"a":"N","h":0.13},{"p":228,"a":"T","h":0.09},
{"p":229,"a":"K","h":0.35},{"p":229,"a":"V","h":0.35},{"p":229,"a":"I","h":0.19},{"p":229,"a":"D","h":0.13},{"p":229,"a":"Q","h":0.13},{"p":229,"a":"R","h":0.13},{"p":229,"a":"S","h":0.03},
{"p":230,"a":"Y","h":0.29},{"p":230,"a":"I","h":0.16},{"p":230,"a":"K","h":0.22},{"p":230,"a":"A","h":0.13},{"p":230,"a":"P","h":0.19},{"p":230,"a":"T","h":0.16},
{"p":231,"a":"N","h":0.3},{"p":231,"a":"E","h":0.19},{"p":231,"a":"S","h":0.19},{"p":231,"a":"H","h":0.13},{"p":231,"a":"I","h":0.12},{"p":231,"a":"T","h":0.12},{"p":231,"a":"R","h":0.11},
{"p":232,"a":"N","h":0.25},{"p":232,"a":"D","h":0.18},{"p":232,"a":"S","h":0.22},{"p":232,"a":"H","h":0.13},{"p":232,"a":"K","h":0.13},{"p":232,"a":"T","h":0.13},{"p":232,"a":"R","h":0.11},
{"p":233,"a":"L","h":0.45},{"p":233,"a":"F","h":0.33},{"p":233,"a":"K","h":0.16},{"p":233,"a":"S","h":0.16},{"p":233,"a":"V","h":0.16},{"p":233,"a":"T","h":0.05},
{"p":234,"a":"S","h":1.0},{"p":234,"a":"G","h":0.45},
{"p":235,"a":"S","h":1.0},{"p":235,"a":"G","h":0.45},
{"p":236,"a":"S","h":1.0},{"p":236,"a":"G","h":0.45},
{"p":237,"a":"S","h":1.0},{"p":237,"a":"G","h":0.45},
{"p":238,"a":"S","h":1.05},{"p":238,"a":"G","h":0.5},
{"p":239,"a":"S","h":1.0},{"p":239,"a":"G","h":0.45},
{"p":240,"a":"D","h":0.43},{"p":240,"a":"P","h":0.2},{"p":240,"a":"K","h":0.17},{"p":240,"a":"N","h":0.16},{"p":240,"a":"T","h":0.17},{"p":240,"a":"V","h":0.18},
{"p":241,"a":"D","h":0.17},{"p":241,"a":"G","h":0.18},{"p":241,"a":"K","h":0.18},{"p":241,"a":"A","h":0.15},{"p":241,"a":"E","h":0.14},{"p":241,"a":"S","h":0.12},{"p":241,"a":"T","h":0.14},
{"p":242,"a":"T","h":0.16},{"p":242,"a":"K","h":0.22},{"p":242,"a":"L","h":0.25},{"p":242,"a":"F","h":0.19},{"p":242,"a":"W","h":0.22},{"p":242,"a":"Y","h":0.16},{"p":242,"a":"E","h":0.07},
{"p":243,"a":"A","h":0.22},{"p":243,"a":"E","h":0.19},{"p":243,"a":"N","h":0.19},{"p":243,"a":"S","h":0.19},{"p":243,"a":"P","h":0.13},{"p":243,"a":"K","h":0.13},{"p":243,"a":"R","h":0.12},
{"p":244,"a":"K","h":0.7},{"p":244,"a":"A","h":0.16},{"p":244,"a":"E","h":0.13},{"p":244,"a":"H","h":0.16},{"p":244,"a":"R","h":0.16},{"p":244,"a":"S","h":0.16},{"p":244,"a":"D","h":0.02},
{"p":245,"a":"D","h":0.19},{"p":245,"a":"E","h":0.18},{"p":245,"a":"S","h":0.19},{"p":245,"a":"R","h":0.17},{"p":245,"a":"Q","h":0.14},{"p":245,"a":"V","h":0.16},{"p":245,"a":"K","h":0.08},
{"p":246,"a":"D","h":0.16},{"p":246,"a":"K","h":0.13},{"p":246,"a":"R","h":0.14},{"p":246,"a":"S","h":0.14},{"p":246,"a":"H","h":0.14},{"p":246,"a":"T","h":0.12},{"p":246,"a":"Y","h":0.13},{"p":246,"a":"E","h":0.12},
{"p":247,"a":"K","h":0.19},{"p":247,"a":"P","h":0.16},{"p":247,"a":"S","h":0.16},{"p":247,"a":"L","h":0.13},{"p":247,"a":"N","h":0.16},{"p":247,"a":"R","h":0.13},{"p":247,"a":"A","h":0.13},{"p":247,"a":"E","h":0.05},
{"p":248,"a":"F","h":0.28},{"p":248,"a":"V","h":0.28},{"p":248,"a":"A","h":0.16},{"p":248,"a":"D","h":0.16},{"p":248,"a":"E","h":0.16},{"p":248,"a":"K","h":0.16},{"p":248,"a":"T","h":0.07},
{"p":249,"a":"H","h":0.38},{"p":249,"a":"L","h":0.38},{"p":249,"a":"V","h":0.25},{"p":249,"a":"A","h":0.16},{"p":249,"a":"T","h":0.16},{"p":249,"a":"I","h":0.06},
{"p":250,"a":"Y","h":1.49},{"p":250,"a":"G","h":0.41},
{"p":251,"a":"A","h":0.57},{"p":251,"a":"E","h":0.38},{"p":251,"a":"K","h":0.25},{"p":251,"a":"T","h":0.29},
{"p":252,"a":"S","h":0.73},{"p":252,"a":"A","h":0.32},{"p":252,"a":"D","h":0.34},
{"p":253,"a":"S","h":1.2},{"p":253,"a":"V","h":0.41},
{"p":254,"a":"V","h":1.1},{"p":254,"a":"D","h":0.55},
{"p":255,"a":"D","h":0.3},{"p":255,"a":"E","h":0.29},{"p":255,"a":"L","h":0.35},{"p":255,"a":"N","h":0.39},
{"p":256,"a":"N","h":0.76},{"p":256,"a":"Q","h":1.01},
{"p":257,"a":"G","h":0.77},{"p":257,"a":"S","h":0.25},{"p":257,"a":"Y","h":0.47},
{"p":258,"a":"R","h":0.6},{"p":258,"a":"D","h":0.45},{"p":258,"a":"K","h":0.44},
{"p":259,"a":"F","h":0.76},{"p":259,"a":"N","h":0.47},{"p":259,"a":"R","h":0.38},
{"p":260,"a":"D","h":0.76},{"p":260,"a":"E","h":0.26},{"p":260,"a":"F","h":0.47},
{"p":261,"a":"R","h":0.73},{"p":261,"a":"N","h":0.72},
{"p":262,"a":"I","h":1.36},{"p":262,"a":"L","h":0.22},
{"p":263,"a":"I","h":0.82},{"p":263,"a":"K","h":0.6},
{"p":264,"a":"K","h":0.92},{"p":264,"a":"V","h":0.73},
{"p":265,"a":"P","h":0.92},{"p":265,"a":"F","h":0.73},
{"p":266,"a":"P","h":0.51},{"p":266,"a":"E","h":0.44},{"p":266,"a":"T","h":0.47},
{"p":267,"a":"R","h":0.4},{"p":267,"a":"G","h":0.41},{"p":267,"a":"S","h":0.56},
{"p":268,"a":"E","h":0.38},{"p":268,"a":"K","h":0.25},{"p":268,"a":"R","h":0.32},{"p":268,"a":"Q","h":0.47},
{"p":269,"a":"D","h":0.85},{"p":269,"a":"T","h":0.54},{"p":269,"a":"Y","h":0.19},
{"p":270,"a":"G","h":0.85},{"p":270,"a":"D","h":0.65},
{"p":271,"a":"E","h":0.95},{"p":271,"a":"K","h":0.6},
{"p":272,"a":"I","h":0.95},{"p":272,"a":"V","h":0.63},
{"p":273,"a":"C","h":2.44},
{"p":274,"a":"V","h":0.75},{"p":274,"a":"I","h":0.64},
{"p":275,"a":"K","h":1.8},
{"p":276,"a":"A","h":0.66},{"p":276,"a":"V","h":0.73},
{"p":277,"a":"S","h":1.0},{"p":277,"a":"D","h":0.52},
{"p":278,"a":"E","h":1.4},{"p":278,"a":"L","h":0.37},
{"p":279,"a":"T","h":0.5},{"p":279,"a":"S","h":0.44},{"p":279,"a":"V","h":0.45},
{"p":280,"a":"E","h":1.4},{"p":280,"a":"L","h":0.37},
{"p":281,"a":"R","h":0.5},{"p":281,"a":"N","h":0.48},{"p":281,"a":"S","h":0.47},
{"p":282,"a":"L","h":1.61},
{"p":283,"a":"G","h":0.73},{"p":283,"a":"A","h":0.72},
{"p":284,"a":"G","h":0.69},{"p":284,"a":"L","h":0.73},
{"p":285,"a":"C","h":3.77},
{"p":286,"a":"P","h":0.81},{"p":286,"a":"E","h":0.25},{"p":286,"a":"A","h":0.14},{"p":286,"a":"Q","h":0.14},{"p":286,"a":"S","h":0.19},{"p":286,"a":"G","h":0.07},
{"p":287,"a":"D","h":1.04},{"p":287,"a":"Y","h":0.79},{"p":287,"a":"F","h":0.19},{"p":287,"a":"E","h":0.07},
{"p":288,"a":"L","h":0.82},{"p":288,"a":"I","h":0.38},{"p":288,"a":"V","h":0.35},{"p":288,"a":"T","h":0.03},
{"p":289,"a":"F","h":0.73},{"p":289,"a":"Y","h":0.47},{"p":289,"a":"N","h":0.22},{"p":289,"a":"S","h":0.16},{"p":289,"a":"A","h":0.13},{"p":289,"a":"L","h":0.09},
{"p":290,"a":"D","h":0.47},{"p":290,"a":"E","h":0.38},{"p":290,"a":"T","h":0.25},{"p":290,"a":"K","h":0.28},{"p":290,"a":"S","h":0.04},
{"p":291,"a":"R","h":2.63},
{"p":292,"a":"F","h":0.51},{"p":292,"a":"I","h":0.25},{"p":292,"a":"L","h":0.32},{"p":292,"a":"Y","h":0.25},{"p":292,"a":"M","h":0.16},{"p":292,"a":"H","h":0.12},
{"p":293,"a":"H","h":0.19},{"p":293,"a":"N","h":0.19},{"p":293,"a":"S","h":0.16},{"p":293,"a":"V","h":0.22},{"p":293,"a":"E","h":0.21},{"p":293,"a":"T","h":0.16},{"p":293,"a":"K","h":0.03},
{"p":294,"a":"T","h":0.76},{"p":294,"a":"V","h":0.89},{"p":294,"a":"L","h":0.15},
{"p":295,"a":"F","h":0.73},{"p":295,"a":"D","h":0.38},{"p":295,"a":"Y","h":0.25},{"p":295,"a":"N","h":0.18},{"p":295,"a":"R","h":0.16},{"p":295,"a":"E","h":0.07},
{"p":296,"a":"A","h":0.41},{"p":296,"a":"V","h":0.49},{"p":296,"a":"S","h":0.13},{"p":296,"a":"I","h":0.13},{"p":296,"a":"T","h":0.16},{"p":296,"a":"L","h":0.01},
{"p":297,"a":"N","h":0.7},{"p":297,"a":"S","h":0.69},{"p":297,"a":"D","h":0.17},{"p":297,"a":"H","h":0.19},{"p":297,"a":"T","h":0.04},
{"p":298,"a":"G","h":2.42},
{"p":299,"a":"D","h":0.6},{"p":299,"a":"N","h":0.54},{"p":299,"a":"K","h":0.16},{"p":299,"a":"Q","h":0.16},{"p":299,"a":"R","h":0.16},{"p":299,"a":"T","h":0.03},
{"p":300,"a":"V","h":0.66},{"p":300,"a":"I","h":0.22},{"p":300,"a":"M","h":0.32},{"p":300,"a":"L","h":0.16},{"p":300,"a":"T","h":0.13},{"p":300,"a":"K","h":0.06},
{"p":301,"a":"G","h":0.44},{"p":301,"a":"A","h":0.19},{"p":301,"a":"K","h":0.22},{"p":301,"a":"H","h":0.16},{"p":301,"a":"S","h":0.18},{"p":301,"a":"Q","h":0.04},
{"p":302,"a":"L","h":1.39},{"p":302,"a":"F","h":0.51},{"p":302,"a":"I","h":0.03},
{"p":303,"a":"C","h":3.77},
{"p":304,"a":"C","h":2.4},{"p":304,"a":"S","h":0.51},
{"p":305,"a":"A","h":0.47},{"p":305,"a":"G","h":0.16},{"p":305,"a":"I","h":0.19},{"p":305,"a":"V","h":0.22},{"p":305,"a":"S","h":0.16},{"p":305,"a":"T","h":0.07},
{"p":306,"a":"D","h":2.25},{"p":306,"a":"N","h":0.22},
{"p":307,"a":"V","h":1.0},{"p":307,"a":"I","h":0.9},
{"p":308,"a":"Q","h":0.78},{"p":308,"a":"D","h":0.47},{"p":308,"a":"N","h":0.32},{"p":308,"a":"M","h":0.16},{"p":308,"a":"S","h":0.12},
{"p":309,"a":"A","h":0.77},{"p":309,"a":"P","h":0.18},{"p":309,"a":"F","h":0.16},{"p":309,"a":"K","h":0.17},{"p":309,"a":"N","h":0.16},
{"p":310,"a":"E","h":0.41},{"p":310,"a":"G","h":0.32},{"p":310,"a":"S","h":0.22},{"p":310,"a":"D","h":0.16},{"p":310,"a":"N","h":0.13},{"p":310,"a":"T","h":0.06},
{"p":311,"a":"F","h":0.73},{"p":311,"a":"Y","h":0.79},{"p":311,"a":"W","h":0.54},{"p":311,"a":"S","h":0.22},
{"p":312,"a":"F","h":0.92},{"p":312,"a":"Y","h":1.42},{"p":312,"a":"W","h":0.1},
{"p":313,"a":"K","h":0.47},{"p":313,"a":"D","h":0.28},{"p":313,"a":"E","h":0.25},{"p":313,"a":"N","h":0.24},{"p":313,"a":"Y","h":0.16},{"p":313,"a":"H","h":0.06},
{"p":314,"a":"L","h":1.55},{"p":314,"a":"I","h":0.16},{"p":314,"a":"M","h":0.19},
{"p":315,"a":"G","h":2.41},
{"p":316,"a":"N","h":1.9},{"p":316,"a":"G","h":0.22},{"p":316,"a":"S","h":0.19},
{"p":317,"a":"V","h":1.52},{"p":317,"a":"A","h":0.44},{"p":317,"a":"S","h":0.03},
{"p":318,"a":"L","h":0.7},{"p":318,"a":"F","h":0.33},{"p":318,"a":"I","h":0.19},{"p":318,"a":"S","h":0.16},{"p":318,"a":"T","h":0.11},
{"p":319,"a":"D","h":0.57},{"p":319,"a":"N","h":0.38},{"p":319,"a":"F","h":0.16},{"p":319,"a":"H","h":0.16},{"p":319,"a":"Q","h":0.16},{"p":319,"a":"W","h":0.15},{"p":319,"a":"E","h":0.1},
{"p":320,"a":"E","h":0.63},{"p":320,"a":"S","h":0.22},{"p":320,"a":"C","h":0.13},{"p":320,"a":"N","h":0.13},{"p":320,"a":"Q","h":0.16},{"p":320,"a":"T","h":0.13},{"p":320,"a":"K","h":0.09},
{"p":321,"a":"D","h":2.2},{"p":321,"a":"Y","h":0.25},
{"p":322,"a":"P","h":1.85},{"p":322,"a":"V","h":0.35},{"p":322,"a":"L","h":0.25},
{"p":323,"a":"V","h":0.6},{"p":323,"a":"L","h":0.35},{"p":323,"a":"T","h":0.2},
{"p":324,"a":"T","h":0.5},{"p":324,"a":"E","h":0.4},{"p":324,"a":"F","h":0.3},
{"p":325,"a":"T","h":0.5},{"p":325,"a":"L","h":0.4},{"p":325,"a":"I","h":0.25},
{"p":326,"a":"Y","h":0.8},{"p":326,"a":"F","h":0.4},{"p":326,"a":"T","h":0.3},
{"p":327,"a":"N","h":1.7},{"p":327,"a":"S","h":0.35},
{"p":328,"a":"D","h":0.45},{"p":328,"a":"S","h":0.25},{"p":328,"a":"K","h":0.2},
{"p":329,"a":"K","h":0.5},{"p":329,"a":"S","h":0.3},{"p":329,"a":"E","h":0.2},
{"p":330,"a":"A","h":0.3},{"p":330,"a":"C","h":0.15},{"p":330,"a":"S","h":0.2},{"p":330,"a":"T","h":0.16},
{"p":331,"a":"F","h":1.5},{"p":331,"a":"L","h":0.35},
{"p":332,"a":"P","h":0.3},{"p":332,"a":"S","h":0.2},{"p":332,"a":"T","h":0.21},
{"p":333,"a":"P","h":0.7},{"p":333,"a":"R","h":0.3},{"p":333,"a":"S","h":0.25},
{"p":334,"a":"Y","h":0.8},{"p":334,"a":"T","h":0.35},{"p":334,"a":"L","h":0.25},
{"p":335,"a":"R","h":1.6},{"p":335,"a":"T","h":0.4},
{"p":336,"a":"K","h":0.45},{"p":336,"a":"R","h":0.25},{"p":336,"a":"T","h":0.2},
{"p":337,"a":"K","h":0.45},{"p":337,"a":"E","h":0.25},{"p":337,"a":"S","h":0.2},
{"p":338,"a":"M","h":1.9},{"p":338,"a":"L","h":0.3},
{"p":339,"a":"H","h":0.35},{"p":339,"a":"L","h":0.25},{"p":339,"a":"S","h":0.2},
{"p":340,"a":"E","h":0.35},{"p":340,"a":"L","h":0.25},{"p":340,"a":"N","h":0.2},
{"p":341,"a":"G","h":0.6},{"p":341,"a":"K","h":0.3},{"p":341,"a":"S","h":0.25},
{"p":342,"a":"R","h":0.6},{"p":342,"a":"T","h":0.3},{"p":342,"a":"K","h":0.25},
{"p":343,"a":"T","h":0.7},{"p":343,"a":"V","h":0.4},{"p":343,"a":"S","h":0.3},
{"p":344,"a":"S","h":0.3},{"p":344,"a":"Q","h":0.25},{"p":344,"a":"T","h":0.2},
{"p":345,"a":"E","h":1.4},{"p":345,"a":"T","h":0.35},
{"p":346,"a":"L","h":1.3},{"p":346,"a":"D","h":0.35},
{"p":347,"a":"D","h":0.5},{"p":347,"a":"S","h":0.3},{"p":347,"a":"T","h":0.2},
{"p":348,"a":"H","h":1.0},{"p":348,"a":"Y","h":0.4},{"p":348,"a":"D","h":0.25},
{"p":349,"a":"C","h":3.73},
{"p":350,"a":"S","h":0.5},{"p":350,"a":"Y","h":0.2},{"p":350,"a":"N","h":0.21},
{"p":351,"a":"N","h":0.4},{"p":351,"a":"S","h":0.2},{"p":351,"a":"D","h":0.15},
{"p":352,"a":"C","h":3.73},
{"p":353,"a":"S","h":0.6},{"p":353,"a":"D","h":0.35},{"p":353,"a":"T","h":0.3},
{"p":354,"a":"T","h":0.5},{"p":354,"a":"V","h":0.35},{"p":354,"a":"D","h":0.3},
{"p":355,"a":"P","h":0.5},{"p":355,"a":"V","h":0.2},{"p":355,"a":"M","h":0.21},
{"p":356,"a":"L","h":0.35},{"p":356,"a":"M","h":0.25},{"p":356,"a":"S","h":0.15},
{"p":357,"a":"S","h":0.25},{"p":357,"a":"C","h":0.15},{"p":357,"a":"T","h":0.2},
{"p":358,"a":"S","h":0.6},{"p":358,"a":"T","h":0.2},{"p":358,"a":"A","h":0.15},
{"p":359,"a":"R","h":0.95},{"p":359,"a":"S","h":0.4},
{"p":360,"a":"E","h":0.5},{"p":360,"a":"F","h":0.3},{"p":360,"a":"D","h":0.2},
{"p":361,"a":"P","h":0.5},{"p":361,"a":"F","h":0.3},{"p":361,"a":"R","h":0.2},
{"p":362,"a":"K","h":0.7},{"p":362,"a":"R","h":0.5},
{"p":363,"a":"T","h":0.3},{"p":363,"a":"L","h":0.25},{"p":363,"a":"V","h":0.2},
{"p":364,"a":"V","h":0.8},{"p":364,"a":"L","h":0.3},
{"p":365,"a":"T","h":0.2},{"p":365,"a":"S","h":0.21},{"p":365,"a":"N","h":0.15},
{"p":366,"a":"D","h":0.35},{"p":366,"a":"N","h":0.2},{"p":366,"a":"S","h":0.15},
{"p":367,"a":"T","h":0.25},{"p":367,"a":"K","h":0.2},
{"p":368,"a":"A","h":0.3},{"p":368,"a":"L","h":0.2},
{"p":369,"a":"S","h":0.3},{"p":369,"a":"T","h":0.2},
{"p":370,"a":"L","h":0.4},{"p":370,"a":"A","h":0.2},
{"p":371,"a":"N","h":0.3},{"p":371,"a":"S","h":0.31},
{"p":372,"a":"S","h":0.3},{"p":372,"a":"T","h":0.2},
{"p":373,"a":"K","h":0.3},{"p":373,"a":"S","h":0.2},
{"p":374,"a":"N","h":0.3},{"p":374,"a":"T","h":0.2},
{"p":375,"a":"S","h":0.3},{"p":375,"a":"A","h":0.2},
{"p":376,"a":"E","h":0.3},{"p":376,"a":"T","h":0.2},
{"p":377,"a":"T","h":0.3},{"p":377,"a":"S","h":0.2},
{"p":378,"a":"L","h":0.3},{"p":378,"a":"S","h":0.2},
{"p":379,"a":"S","h":0.3},{"p":379,"a":"A","h":0.2},
{"p":380,"a":"T","h":0.3},{"p":380,"a":"S","h":0.2}
],
"E":[
{"p":1,"lo":0.79,"hi":2.66,"w":0.08},{"p":2,"lo":0.66,"hi":2.41,"w":0.06},{"p":3,"lo":0.79,"hi":2.5,"w":0.12},{"p":4,"lo":0.7,"hi":2.32,"w":0.2},{"p":5,"lo":0.73,"hi":2.21,"w":0.2},{"p":6,"lo":0.7,"hi":2.37,"w":0.25},{"p":7,"lo":1.47,"hi":3.0,"w":1},{"p":8,"lo":0.99,"hi":2.35,"w":0.85},{"p":9,"lo":0.92,"hi":2.18,"w":0.85},{"p":10,"lo":1.79,"hi":3.61,"w":1},
{"p":11,"lo":0.79,"hi":2.0,"w":1},{"p":12,"lo":1.12,"hi":2.44,"w":1},{"p":13,"lo":0.92,"hi":2.23,"w":1},{"p":14,"lo":1.1,"hi":2.4,"w":1},{"p":15,"lo":1.5,"hi":3.28,"w":1},{"p":16,"lo":1.62,"hi":3.44,"w":1},{"p":17,"lo":1.1,"hi":2.53,"w":1},{"p":18,"lo":1.34,"hi":3.13,"w":1},{"p":19,"lo":0.92,"hi":2.19,"w":1},{"p":20,"lo":1.15,"hi":2.72,"w":1},
{"p":21,"lo":0.83,"hi":2.26,"w":1},{"p":22,"lo":2.76,"hi":4.34,"w":1},{"p":23,"lo":0.89,"hi":2.04,"w":1},{"p":24,"lo":1.14,"hi":2.92,"w":1},{"p":25,"lo":0.92,"hi":2.16,"w":1},{"p":26,"lo":2.76,"hi":4.34,"w":1},{"p":27,"lo":1.1,"hi":2.43,"w":1},{"p":28,"lo":2.47,"hi":4.34,"w":1},{"p":29,"lo":2.76,"hi":4.34,"w":1},{"p":30,"lo":1.02,"hi":2.43,"w":1},
{"p":31,"lo":1.57,"hi":3.35,"w":1},{"p":32,"lo":0.76,"hi":2.43,"w":0.3},{"p":33,"lo":1.08,"hi":2.99,"w":0.3},{"p":34,"lo":0.72,"hi":2.39,"w":0.25},{"p":35,"lo":0.92,"hi":2.86,"w":0.3},{"p":36,"lo":0.76,"hi":2.43,"w":0.3},{"p":37,"lo":1.0,"hi":2.89,"w":0.25},{"p":38,"lo":0.57,"hi":2.18,"w":0.25},{"p":39,"lo":0.76,"hi":2.43,"w":0.25},{"p":40,"lo":0.75,"hi":2.41,"w":0.3},
{"p":41,"lo":0.75,"hi":2.34,"w":0.25},{"p":42,"lo":0.75,"hi":2.29,"w":0.25},{"p":43,"lo":0.75,"hi":2.43,"w":0.25},{"p":44,"lo":0.6,"hi":2.17,"w":0.25},{"p":45,"lo":0.63,"hi":2.19,"w":0.2},{"p":46,"lo":0.76,"hi":2.72,"w":0.3},{"p":47,"lo":0.83,"hi":2.46,"w":0.2},{"p":48,"lo":0.76,"hi":1.79,"w":1},{"p":49,"lo":0.66,"hi":2.02,"w":1},{"p":50,"lo":0.79,"hi":2.21,"w":1},
{"p":51,"lo":0.6,"hi":1.55,"w":1},{"p":52,"lo":1.12,"hi":2.72,"w":1},{"p":53,"lo":1.02,"hi":2.21,"w":1},{"p":54,"lo":0.76,"hi":2.18,"w":1},{"p":55,"lo":0.75,"hi":1.85,"w":1},{"p":56,"lo":1.08,"hi":2.45,"w":1},{"p":57,"lo":2.25,"hi":4.08,"w":1},{"p":58,"lo":1.07,"hi":2.54,"w":1},{"p":59,"lo":0.92,"hi":2.29,"w":1},{"p":60,"lo":1.06,"hi":2.54,"w":1},
{"p":61,"lo":0.95,"hi":2.29,"w":1},{"p":62,"lo":1.89,"hi":3.68,"w":1},{"p":63,"lo":0.68,"hi":1.77,"w":1},{"p":64,"lo":0.57,"hi":1.65,"w":1},{"p":65,"lo":1.63,"hi":3.35,"w":1},{"p":66,"lo":0.78,"hi":2.0,"w":1},{"p":67,"lo":0.88,"hi":2.05,"w":1},{"p":68,"lo":1.08,"hi":2.55,"w":1},{"p":69,"lo":1.66,"hi":3.34,"w":1},{"p":70,"lo":0.7,"hi":1.57,"w":1},
{"p":71,"lo":1.44,"hi":3.12,"w":1},{"p":72,"lo":1.37,"hi":2.94,"w":1},{"p":73,"lo":0.63,"hi":1.76,"w":1},{"p":74,"lo":0.97,"hi":2.39,"w":1},{"p":75,"lo":0.72,"hi":1.89,"w":1},{"p":76,"lo":1.08,"hi":2.58,"w":1},{"p":77,"lo":0.83,"hi":2.0,"w":1},{"p":78,"lo":1.18,"hi":2.52,"w":1},{"p":79,"lo":0.63,"hi":1.79,"w":1},{"p":80,"lo":0.86,"hi":2.04,"w":1},
{"p":81,"lo":1.15,"hi":2.9,"w":1},{"p":82,"lo":1.5,"hi":2.89,"w":1},{"p":83,"lo":1.53,"hi":3.32,"w":1},{"p":84,"lo":1.11,"hi":2.61,"w":1},{"p":85,"lo":1.53,"hi":3.32,"w":1},{"p":86,"lo":1.69,"hi":3.46,"w":1},{"p":87,"lo":1.21,"hi":2.63,"w":1},{"p":88,"lo":1.02,"hi":2.79,"w":1},{"p":89,"lo":1.18,"hi":2.99,"w":1},{"p":90,"lo":1.85,"hi":3.61,"w":1},
{"p":91,"lo":1.24,"hi":2.69,"w":1},{"p":92,"lo":1.05,"hi":2.32,"w":1},{"p":93,"lo":0.92,"hi":2.26,"w":1},{"p":94,"lo":0.73,"hi":1.78,"w":1},{"p":95,"lo":0.76,"hi":1.88,"w":1},{"p":96,"lo":1.75,"hi":3.54,"w":1},{"p":97,"lo":1.32,"hi":2.74,"w":1},{"p":98,"lo":0.83,"hi":1.94,"w":1},{"p":99,"lo":1.08,"hi":2.32,"w":1},{"p":100,"lo":1.05,"hi":2.58,"w":1},
{"p":101,"lo":1.75,"hi":3.54,"w":1},{"p":102,"lo":0.83,"hi":1.88,"w":1},{"p":103,"lo":0.92,"hi":2.15,"w":1},{"p":104,"lo":1.37,"hi":3.09,"w":1},{"p":105,"lo":1.5,"hi":3.06,"w":1},{"p":106,"lo":0.76,"hi":1.77,"w":1},{"p":107,"lo":0.6,"hi":1.64,"w":1},{"p":108,"lo":1.31,"hi":2.74,"w":1},{"p":109,"lo":1.21,"hi":2.93,"w":1},{"p":110,"lo":1.37,"hi":2.97,"w":1},
{"p":111,"lo":0.83,"hi":1.96,"w":1},{"p":112,"lo":1.32,"hi":2.85,"w":1},{"p":113,"lo":1.53,"hi":3.18,"w":1},{"p":114,"lo":1.32,"hi":3.02,"w":1},{"p":115,"lo":0.75,"hi":1.75,"w":1},{"p":116,"lo":0.96,"hi":2.15,"w":1},{"p":117,"lo":1.32,"hi":3.11,"w":1},{"p":118,"lo":0.92,"hi":2.15,"w":1},{"p":119,"lo":0.8,"hi":1.99,"w":1},{"p":120,"lo":0.8,"hi":1.88,"w":1},
{"p":121,"lo":0.73,"hi":1.87,"w":1},{"p":122,"lo":1.18,"hi":2.32,"w":1},{"p":123,"lo":0.41,"hi":1.5,"w":0.5},{"p":124,"lo":0.68,"hi":1.8,"w":1},{"p":125,"lo":1.1,"hi":2.76,"w":1},{"p":126,"lo":0.96,"hi":2.58,"w":1},{"p":127,"lo":0.94,"hi":2.34,"w":1},{"p":128,"lo":0.94,"hi":2.34,"w":1},{"p":129,"lo":1.18,"hi":2.83,"w":1},{"p":130,"lo":1.08,"hi":2.66,"w":1},
{"p":131,"lo":1.4,"hi":3.06,"w":1},{"p":132,"lo":1.2,"hi":2.61,"w":1},{"p":133,"lo":1.05,"hi":2.4,"w":1},{"p":134,"lo":1.85,"hi":3.6,"w":1},{"p":135,"lo":1.11,"hi":2.14,"w":1},{"p":136,"lo":1.18,"hi":2.82,"w":1},{"p":137,"lo":1.15,"hi":2.58,"w":1},{"p":138,"lo":1.85,"hi":3.61,"w":1},{"p":139,"lo":1.18,"hi":2.72,"w":1},{"p":140,"lo":0.87,"hi":2.14,"w":1},
{"p":141,"lo":0.73,"hi":2.01,"w":1},{"p":142,"lo":1.37,"hi":3.0,"w":1},{"p":143,"lo":1.17,"hi":2.54,"w":1},{"p":144,"lo":0.96,"hi":2.27,"w":1},{"p":145,"lo":1.82,"hi":3.36,"w":1},{"p":146,"lo":1.69,"hi":3.46,"w":1},{"p":147,"lo":0.67,"hi":1.71,"w":1},{"p":148,"lo":1.63,"hi":3.46,"w":1},{"p":149,"lo":1.82,"hi":3.52,"w":1},{"p":150,"lo":0.89,"hi":2.1,"w":1},
{"p":151,"lo":1.15,"hi":2.6,"w":1},{"p":152,"lo":0.7,"hi":2.23,"w":1},{"p":153,"lo":0.99,"hi":2.27,"w":1},{"p":154,"lo":1.4,"hi":2.83,"w":1},{"p":155,"lo":0.92,"hi":2.1,"w":1},{"p":156,"lo":1.02,"hi":2.38,"w":1},{"p":157,"lo":0.92,"hi":2.21,"w":1},{"p":158,"lo":0.81,"hi":2.12,"w":1},{"p":159,"lo":0.6,"hi":1.6,"w":1},{"p":160,"lo":2.01,"hi":3.78,"w":1},
{"p":161,"lo":1.02,"hi":2.42,"w":1},{"p":162,"lo":0.71,"hi":1.83,"w":1},{"p":163,"lo":0.89,"hi":2.04,"w":1},{"p":164,"lo":1.78,"hi":3.45,"w":1},{"p":165,"lo":1.61,"hi":3.31,"w":1},{"p":166,"lo":0.76,"hi":1.9,"w":1},{"p":167,"lo":0.8,"hi":2.01,"w":1},{"p":168,"lo":1.75,"hi":3.52,"w":1},{"p":169,"lo":1.5,"hi":2.92,"w":1},{"p":170,"lo":0.64,"hi":1.75,"w":1},
{"p":171,"lo":0.6,"hi":1.8,"w":1},{"p":172,"lo":0.89,"hi":2.11,"w":1},{"p":173,"lo":1.31,"hi":2.98,"w":1},{"p":174,"lo":0.96,"hi":2.28,"w":1},{"p":175,"lo":1.24,"hi":2.69,"w":1},{"p":176,"lo":1.03,"hi":2.41,"w":1},{"p":177,"lo":1.32,"hi":2.74,"w":1},{"p":178,"lo":0.96,"hi":2.42,"w":1},{"p":179,"lo":1.15,"hi":2.54,"w":1},{"p":180,"lo":1.75,"hi":3.52,"w":1},
{"p":181,"lo":2.12,"hi":3.76,"w":1},{"p":182,"lo":1.5,"hi":3.1,"w":1},{"p":183,"lo":0.99,"hi":2.32,"w":1},{"p":184,"lo":1.69,"hi":3.31,"w":1},{"p":185,"lo":1.03,"hi":2.29,"w":1},{"p":186,"lo":0.59,"hi":1.7,"w":1},{"p":187,"lo":1.99,"hi":3.77,"w":1},{"p":188,"lo":0.6,"hi":1.62,"w":1},{"p":189,"lo":0.8,"hi":2.03,"w":1},{"p":190,"lo":1.4,"hi":2.94,"w":1},
{"p":191,"lo":2.77,"hi":4.3,"w":1},{"p":192,"lo":0.97,"hi":2.15,"w":1},{"p":193,"lo":1.19,"hi":2.56,"w":1},{"p":194,"lo":2.05,"hi":3.82,"w":1},{"p":195,"lo":0.78,"hi":1.75,"w":1},{"p":196,"lo":0.64,"hi":1.64,"w":1},{"p":197,"lo":1.43,"hi":2.88,"w":1},{"p":198,"lo":3.1,"hi":4.31,"w":1},{"p":199,"lo":0.64,"hi":1.72,"w":1},{"p":200,"lo":0.57,"hi":1.62,"w":1},
{"p":201,"lo":0.78,"hi":1.88,"w":1},{"p":202,"lo":0.99,"hi":2.56,"w":1},{"p":203,"lo":0.97,"hi":2.2,"w":1},{"p":204,"lo":0.61,"hi":1.7,"w":1},{"p":205,"lo":0.75,"hi":1.8,"w":1},{"p":206,"lo":1.31,"hi":2.69,"w":1},{"p":207,"lo":1.35,"hi":3.09,"w":1},{"p":208,"lo":1.83,"hi":3.6,"w":1},{"p":209,"lo":1.2,"hi":2.43,"w":1},{"p":210,"lo":1.07,"hi":2.64,"w":1},
{"p":211,"lo":0.67,"hi":2.04,"w":1},{"p":212,"lo":0.7,"hi":1.8,"w":1},{"p":213,"lo":1.42,"hi":2.95,"w":1},{"p":214,"lo":1.21,"hi":2.52,"w":1},{"p":215,"lo":0.99,"hi":2.18,"w":1},{"p":216,"lo":2.5,"hi":4.3,"w":1},{"p":217,"lo":1.91,"hi":3.71,"w":1},{"p":218,"lo":1.77,"hi":3.43,"w":1},{"p":219,"lo":0.92,"hi":2.36,"w":1},{"p":220,"lo":0.78,"hi":2.1,"w":1},
{"p":221,"lo":1.13,"hi":2.94,"w":1},{"p":222,"lo":0.84,"hi":2.47,"w":1},{"p":223,"lo":1.13,"hi":2.32,"w":1},{"p":224,"lo":1.13,"hi":2.54,"w":1},{"p":225,"lo":1.13,"hi":2.43,"w":1},{"p":226,"lo":0.61,"hi":1.66,"w":1},{"p":227,"lo":0.92,"hi":2.08,"w":1},{"p":228,"lo":0.78,"hi":1.9,"w":1},{"p":229,"lo":0.73,"hi":1.83,"w":1},{"p":230,"lo":0.64,"hi":1.68,"w":1},
{"p":231,"lo":0.64,"hi":1.66,"w":1},{"p":232,"lo":0.64,"hi":1.74,"w":1},{"p":233,"lo":0.67,"hi":1.85,"w":1},{"p":234,"lo":0.64,"hi":2.31,"w":0.04},{"p":235,"lo":0.64,"hi":2.31,"w":0.04},{"p":236,"lo":0.64,"hi":2.31,"w":0.04},{"p":237,"lo":0.64,"hi":2.31,"w":0.04},{"p":238,"lo":0.75,"hi":2.4,"w":0.04},{"p":239,"lo":0.64,"hi":2.31,"w":0.04},{"p":240,"lo":0.67,"hi":1.86,"w":0.85},
{"p":241,"lo":0.47,"hi":1.58,"w":1},{"p":242,"lo":0.53,"hi":1.9,"w":1},{"p":243,"lo":0.54,"hi":1.71,"w":1},{"p":244,"lo":0.8,"hi":2.17,"w":1},{"p":245,"lo":0.47,"hi":1.63,"w":1},{"p":246,"lo":0.44,"hi":1.6,"w":1},{"p":247,"lo":0.6,"hi":1.66,"w":1},{"p":248,"lo":0.66,"hi":1.82,"w":1},{"p":249,"lo":0.73,"hi":2.06,"w":1},{"p":250,"lo":1.04,"hi":2.78,"w":0.4},
{"p":251,"lo":0.72,"hi":1.98,"w":0.3},{"p":252,"lo":0.65,"hi":2.15,"w":0.35},{"p":253,"lo":0.76,"hi":2.46,"w":0.45},{"p":254,"lo":0.79,"hi":2.49,"w":0.4},{"p":255,"lo":0.47,"hi":2.04,"w":0.3},{"p":256,"lo":0.97,"hi":2.56,"w":0.3},{"p":257,"lo":0.7,"hi":2.25,"w":0.35},{"p":258,"lo":0.7,"hi":2.23,"w":0.35},{"p":259,"lo":0.89,"hi":2.36,"w":0.35},{"p":260,"lo":0.72,"hi":2.22,"w":0.3},
{"p":261,"lo":0.72,"hi":2.22,"w":0.3},{"p":262,"lo":0.61,"hi":2.61,"w":0.3},{"p":263,"lo":0.63,"hi":2.31,"w":0.3},{"p":264,"lo":0.79,"hi":2.37,"w":0.3},{"p":265,"lo":0.85,"hi":2.47,"w":0.3},{"p":266,"lo":0.63,"hi":2.15,"w":0.3},{"p":267,"lo":0.65,"hi":2.12,"w":0.3},{"p":268,"lo":0.7,"hi":2.22,"w":0.27},{"p":269,"lo":0.79,"hi":2.41,"w":0.27},{"p":270,"lo":0.7,"hi":2.34,"w":0.27},
{"p":271,"lo":0.7,"hi":2.36,"w":0.27},{"p":272,"lo":0.63,"hi":2.41,"w":0.27},{"p":273,"lo":1.35,"hi":3.5,"w":0.27},{"p":274,"lo":0.66,"hi":2.36,"w":0.27},{"p":275,"lo":0.89,"hi":2.77,"w":0.27},{"p":276,"lo":0.59,"hi":2.32,"w":0.27},{"p":277,"lo":0.66,"hi":2.36,"w":0.27},{"p":278,"lo":0.84,"hi":2.72,"w":0.27},{"p":279,"lo":0.6,"hi":2.14,"w":0.27},{"p":280,"lo":0.84,"hi":2.72,"w":0.27},
{"p":281,"lo":0.79,"hi":2.18,"w":0.27},{"p":282,"lo":0.63,"hi":2.61,"w":0.27},{"p":283,"lo":0.6,"hi":2.3,"w":0.27},{"p":284,"lo":0.6,"hi":2.3,"w":0.27},{"p":285,"lo":2.83,"hi":4.28,"w":1},{"p":286,"lo":0.97,"hi":2.26,"w":1},{"p":287,"lo":1.37,"hi":2.66,"w":1},{"p":288,"lo":0.79,"hi":2.28,"w":1},{"p":289,"lo":1.16,"hi":2.45,"w":1},{"p":290,"lo":0.87,"hi":2.01,"w":1},
{"p":291,"lo":1.77,"hi":3.51,"w":1},{"p":292,"lo":1.03,"hi":2.14,"w":1},{"p":293,"lo":0.63,"hi":1.66,"w":1},{"p":294,"lo":1.11,"hi":2.47,"w":1},{"p":295,"lo":1.16,"hi":2.41,"w":1},{"p":296,"lo":0.73,"hi":1.94,"w":1},{"p":297,"lo":1.12,"hi":2.47,"w":1},{"p":298,"lo":1.54,"hi":3.29,"w":1},{"p":299,"lo":1.01,"hi":2.28,"w":1},{"p":300,"lo":0.91,"hi":2.2,"w":1},
{"p":301,"lo":0.66,"hi":1.8,"w":1},{"p":302,"lo":0.92,"hi":2.7,"w":1},{"p":303,"lo":2.83,"hi":4.28,"w":1},{"p":304,"lo":2.06,"hi":3.8,"w":1},{"p":305,"lo":0.66,"hi":1.8,"w":1},{"p":306,"lo":1.6,"hi":3.32,"w":1},{"p":307,"lo":1.06,"hi":2.35,"w":0.3},{"p":308,"lo":1.16,"hi":2.39,"w":1},{"p":309,"lo":0.73,"hi":2.12,"w":1},{"p":310,"lo":0.73,"hi":1.9,"w":1},
{"p":311,"lo":1.56,"hi":3.02,"w":1},{"p":312,"lo":1.65,"hi":3.21,"w":1},{"p":313,"lo":0.91,"hi":2.01,"w":1},{"p":314,"lo":1.01,"hi":2.75,"w":1},{"p":315,"lo":1.54,"hi":3.29,"w":1},{"p":316,"lo":1.52,"hi":3.04,"w":1},{"p":317,"lo":1.17,"hi":2.8,"w":1},{"p":318,"lo":0.8,"hi":2.16,"w":1},{"p":319,"lo":1.06,"hi":2.34,"w":1},{"p":320,"lo":0.98,"hi":2.14,"w":1},
{"p":321,"lo":1.6,"hi":3.3,"w":1},{"p":322,"lo":1.6,"hi":3.3,"w":1},{"p":323,"lo":0.5,"hi":1.95,"w":1},{"p":324,"lo":0.5,"hi":2.0,"w":1},{"p":325,"lo":0.5,"hi":1.95,"w":1},{"p":326,"lo":0.75,"hi":2.3,"w":1},{"p":327,"lo":1.25,"hi":2.9,"w":1},{"p":328,"lo":0.35,"hi":1.7,"w":1},{"p":329,"lo":0.4,"hi":1.8,"w":1},{"p":330,"lo":0.3,"hi":1.6,"w":1},
{"p":331,"lo":1.05,"hi":2.7,"w":1},{"p":332,"lo":0.25,"hi":1.5,"w":1},{"p":333,"lo":0.55,"hi":2.05,"w":1},{"p":334,"lo":0.65,"hi":2.2,"w":1},{"p":335,"lo":1.2,"hi":2.85,"w":1},{"p":336,"lo":0.35,"hi":1.7,"w":1},{"p":337,"lo":0.35,"hi":1.7,"w":1},{"p":338,"lo":1.4,"hi":3.05,"w":1},{"p":339,"lo":0.3,"hi":1.6,"w":1},{"p":340,"lo":0.3,"hi":1.6,"w":1},
{"p":341,"lo":0.5,"hi":1.95,"w":1},{"p":342,"lo":0.5,"hi":1.95,"w":1},{"p":343,"lo":0.65,"hi":2.2,"w":1},{"p":344,"lo":0.3,"hi":1.55,"w":1},{"p":345,"lo":1.0,"hi":2.6,"w":1},{"p":346,"lo":0.9,"hi":2.5,"w":1},{"p":347,"lo":0.4,"hi":1.8,"w":1},{"p":348,"lo":0.9,"hi":2.5,"w":1},{"p":349,"lo":2.76,"hi":4.34,"w":1},{"p":350,"lo":0.35,"hi":1.7,"w":1},
{"p":351,"lo":0.3,"hi":1.55,"w":1},{"p":352,"lo":2.76,"hi":4.34,"w":1},{"p":353,"lo":0.55,"hi":2.05,"w":1},{"p":354,"lo":0.5,"hi":1.95,"w":1},{"p":355,"lo":0.35,"hi":1.7,"w":1},{"p":356,"lo":0.3,"hi":1.55,"w":1},{"p":357,"lo":0.2,"hi":1.4,"w":1},{"p":358,"lo":0.4,"hi":1.75,"w":1},{"p":359,"lo":0.6,"hi":2.15,"w":1},{"p":360,"lo":0.4,"hi":1.8,"w":1},
{"p":361,"lo":0.4,"hi":1.8,"w":1},{"p":362,"lo":0.5,"hi":2.0,"w":1},{"p":363,"lo":0.3,"hi":1.55,"w":1},{"p":364,"lo":0.45,"hi":1.9,"w":1},{"p":365,"lo":0.15,"hi":1.35,"w":1},{"p":366,"lo":0.25,"hi":1.5,"w":1},{"p":367,"lo":0.1,"hi":1.5,"w":0.3},{"p":368,"lo":0.1,"hi":1.5,"w":0.3},{"p":369,"lo":0.1,"hi":1.5,"w":0.3},{"p":370,"lo":0.1,"hi":1.6,"w":0.3},
{"p":371,"lo":0.1,"hi":1.6,"w":0.3},{"p":372,"lo":0.1,"hi":1.5,"w":0.3},{"p":373,"lo":0.1,"hi":1.5,"w":0.3},{"p":374,"lo":0.1,"hi":1.5,"w":0.3},{"p":375,"lo":0.1,"hi":1.5,"w":0.3},{"p":376,"lo":0.1,"hi":1.5,"w":0.3},{"p":377,"lo":0.1,"hi":1.5,"w":0.3},{"p":378,"lo":0.1,"hi":1.5,"w":0.3},{"p":379,"lo":0.1,"hi":1.5,"w":0.3},{"p":380,"lo":0.1,"hi":1.5,"w":0.3}
]},
"vconcat":[
{"width":{"step":44.9},"height":224,"resolve":{"scale":{"size":"independent"}},"layer":[
 {"data":{"name":"L"},"transform":[{"filter":"datum.p>=1&&datum.p<=80"},{"lookup":"p","from":{"data":{"name":"E"},"key":"p","fields":["w"]}},{"stack":"h","groupby":["p"],"sort":[{"field":"h","order":"ascending"}],"as":["y0","y1"]}],"mark":{"type":"bar"},"encoding":{"x":{"field":"p","type":"ordinal","scale":{"paddingInner":0,"paddingOuter":0},"axis":{"title":null,"labelOverlap":false,"labelExpr":"datum.value % 5 === 0 ? datum.label : ''"}},"y":{"field":"y1","type":"quantitative","scale":{"domain":[0,4.32],"nice":false},"axis":{"title":"bits","labelOverlap":false,"values":[0,1,2,3,4],"format":".1f"}},"y2":{"field":"y0"},"size":{"field":"w","type":"quantitative","scale":{"domain":[0,1],"range":[0,40]},"legend":null},"color":{"condition":[{"test":"datum.a === 'C'","value":"#e60000"},{"test":"datum.h < 0.2 || (datum.w < 0.6 && datum.h < 0.3)","value":"#5c5c5c"}],"value":"#8a8a8a"}}},
 {"data":{"name":"L"},"transform":[{"filter":"datum.p>=1&&datum.p<=80"},{"lookup":"p","from":{"data":{"name":"E"},"key":"p","fields":["w"]}},{"stack":"h","groupby":["p"],"sort":[{"field":"h","order":"ascending"}],"as":["y0","y1"]},{"filter":"datum.h >= 0.2 && datum.w >= 0.6"}],"mark":{"type":"text","baseline":"top","dy":3,"fontWeight":"bold"},"encoding":{"x":{"field":"p","type":"ordinal"},"y":{"field":"y1","type":"quantitative"},"text":{"field":"a"},"size":{"field":"h","type":"quantitative","scale":{"domain":[0.2,0.85],"range":[12,44],"clamp":true},"legend":null},"color":{"condition":{"test":"datum.a === 'C'","value":"#ffffff"},"value":"#000000"}}},
 {"data":{"name":"L"},"transform":[{"filter":"datum.p>=1&&datum.p<=80"},{"lookup":"p","from":{"data":{"name":"E"},"key":"p","fields":["w"]}},{"stack":"h","groupby":["p"],"sort":[{"field":"h","order":"ascending"}],"as":["y0","y1"]},{"filter":"datum.h >= 0.3 && datum.w >= 0.2 && datum.w < 0.6"}],"mark":{"type":"text","baseline":"top","dy":3,"fontSize":11,"fontWeight":"bold"},"encoding":{"x":{"field":"p","type":"ordinal"},"y":{"field":"y1","type":"quantitative"},"text":{"field":"a"},"color":{"condition":{"test":"datum.a === 'C'","value":"#ffffff"},"value":"#000000"}}},
 {"data":{"name":"E"},"transform":[{"filter":"datum.p>=1&&datum.p<=80"}],"mark":{"type":"rule","color":"#bdbdbd","strokeWidth":3},"encoding":{"x":{"field":"p","type":"ordinal"},"y":{"field":"lo","type":"quantitative"},"y2":{"field":"hi"}}},
 {"data":{"name":"E"},"transform":[{"filter":"datum.p>=1&&datum.p<=80"}],"mark":{"type":"point","shape":"square","filled":true,"color":"#bdbdbd","size":45,"opacity":1},"encoding":{"x":{"field":"p","type":"ordinal"},"y":{"field":"lo","type":"quantitative"}}},
 {"data":{"name":"E"},"transform":[{"filter":"datum.p>=1&&datum.p<=80"}],"mark":{"type":"point","shape":"square","filled":true,"color":"#bdbdbd","size":45,"opacity":1},"encoding":{"x":{"field":"p","type":"ordinal"},"y":{"field":"hi","type":"quantitative"}}}
]},
{"width":{"step":44.9},"height":224,"resolve":{"scale":{"size":"independent"}},"layer":[
 {"data":{"name":"L"},"transform":[{"filter":"datum.p>=81&&datum.p<=160"},{"lookup":"p","from":{"data":{"name":"E"},"key":"p","fields":["w"]}},{"stack":"h","groupby":["p"],"sort":[{"field":"h","order":"ascending"}],"as":["y0","y1"]}],"mark":{"type":"bar"},"encoding":{"x":{"field":"p","type":"ordinal","scale":{"paddingInner":0,"paddingOuter":0},"axis":{"title":null,"labelOverlap":false,"labelExpr":"datum.value % 5 === 0 ? datum.label : ''"}},"y":{"field":"y1","type":"quantitative","scale":{"domain":[0,4.32],"nice":false},"axis":{"title":"bits","labelOverlap":false,"values":[0,1,2,3,4],"format":".1f"}},"y2":{"field":"y0"},"size":{"field":"w","type":"quantitative","scale":{"domain":[0,1],"range":[0,40]},"legend":null},"color":{"condition":[{"test":"datum.a === 'C'","value":"#e60000"},{"test":"datum.h < 0.2 || (datum.w < 0.6 && datum.h < 0.3)","value":"#5c5c5c"}],"value":"#8a8a8a"}}},
 {"data":{"name":"L"},"transform":[{"filter":"datum.p>=81&&datum.p<=160"},{"lookup":"p","from":{"data":{"name":"E"},"key":"p","fields":["w"]}},{"stack":"h","groupby":["p"],"sort":[{"field":"h","order":"ascending"}],"as":["y0","y1"]},{"filter":"datum.h >= 0.2 && datum.w >= 0.6"}],"mark":{"type":"text","baseline":"top","dy":3,"fontWeight":"bold"},"encoding":{"x":{"field":"p","type":"ordinal"},"y":{"field":"y1","type":"quantitative"},"text":{"field":"a"},"size":{"field":"h","type":"quantitative","scale":{"domain":[0.2,0.85],"range":[12,44],"clamp":true},"legend":null},"color":{"condition":{"test":"datum.a === 'C'","value":"#ffffff"},"value":"#000000"}}},
 {"data":{"name":"L"},"transform":[{"filter":"datum.p>=81&&datum.p<=160"},{"lookup":"p","from":{"data":{"name":"E"},"key":"p","fields":["w"]}},{"stack":"h","groupby":["p"],"sort":[{"field":"h","order":"ascending"}],"as":["y0","y1"]},{"filter":"datum.h >= 0.3 && datum.w >= 0.2 && datum.w < 0.6"}],"mark":{"type":"text","baseline":"top","dy":3,"fontSize":11,"fontWeight":"bold"},"encoding":{"x":{"field":"p","type":"ordinal"},"y":{"field":"y1","type":"quantitative"},"text":{"field":"a"},"color":{"condition":{"test":"datum.a === 'C'","value":"#ffffff"},"value":"#000000"}}},
 {"data":{"name":"E"},"transform":[{"filter":"datum.p>=81&&datum.p<=160"}],"mark":{"type":"rule","color":"#bdbdbd","strokeWidth":3},"encoding":{"x":{"field":"p","type":"ordinal"},"y":{"field":"lo","type":"quantitative"},"y2":{"field":"hi"}}},
 {"data":{"name":"E"},"transform":[{"filter":"datum.p>=81&&datum.p<=160"}],"mark":{"type":"point","shape":"square","filled":true,"color":"#bdbdbd","size":45,"opacity":1},"encoding":{"x":{"field":"p","type":"ordinal"},"y":{"field":"lo","type":"quantitative"}}},
 {"data":{"name":"E"},"transform":[{"filter":"datum.p>=81&&datum.p<=160"}],"mark":{"type":"point","shape":"square","filled":true,"color":"#bdbdbd","size":45,"opacity":1},"encoding":{"x":{"field":"p","type":"ordinal"},"y":{"field":"hi","type":"quantitative"}}}
]},
{"width":{"step":44.9},"height":224,"resolve":{"scale":{"size":"independent"}},"layer":[
 {"data":{"name":"L"},"transform":[{"filter":"datum.p>=161&&datum.p<=240"},{"lookup":"p","from":{"data":{"name":"E"},"key":"p","fields":["w"]}},{"stack":"h","groupby":["p"],"sort":[{"field":"h","order":"ascending"}],"as":["y0","y1"]}],"mark":{"type":"bar"},"encoding":{"x":{"field":"p","type":"ordinal","scale":{"paddingInner":0,"paddingOuter":0},"axis":{"title":null,"labelOverlap":false,"labelExpr":"datum.value % 5 === 0 ? datum.label : ''"}},"y":{"field":"y1","type":"quantitative","scale":{"domain":[0,4.32],"nice":false},"axis":{"title":"bits","labelOverlap":false,"values":[0,1,2,3,4],"format":".1f"}},"y2":{"field":"y0"},"size":{"field":"w","type":"quantitative","scale":{"domain":[0,1],"range":[0,40]},"legend":null},"color":{"condition":[{"test":"datum.a === 'C'","value":"#e60000"},{"test":"datum.h < 0.2 || (datum.w < 0.6 && datum.h < 0.3)","value":"#5c5c5c"}],"value":"#8a8a8a"}}},
 {"data":{"name":"L"},"transform":[{"filter":"datum.p>=161&&datum.p<=240"},{"lookup":"p","from":{"data":{"name":"E"},"key":"p","fields":["w"]}},{"stack":"h","groupby":["p"],"sort":[{"field":"h","order":"ascending"}],"as":["y0","y1"]},{"filter":"datum.h >= 0.2 && datum.w >= 0.6"}],"mark":{"type":"text","baseline":"top","dy":3,"fontWeight":"bold"},"encoding":{"x":{"field":"p","type":"ordinal"},"y":{"field":"y1","type":"quantitative"},"text":{"field":"a"},"size":{"field":"h","type":"quantitative","scale":{"domain":[0.2,0.85],"range":[12,44],"clamp":true},"legend":null},"color":{"condition":{"test":"datum.a === 'C'","value":"#ffffff"},"value":"#000000"}}},
 {"data":{"name":"L"},"transform":[{"filter":"datum.p>=161&&datum.p<=240"},{"lookup":"p","from":{"data":{"name":"E"},"key":"p","fields":["w"]}},{"stack":"h","groupby":["p"],"sort":[{"field":"h","order":"ascending"}],"as":["y0","y1"]},{"filter":"datum.h >= 0.3 && datum.w >= 0.2 && datum.w < 0.6"}],"mark":{"type":"text","baseline":"top","dy":3,"fontSize":11,"fontWeight":"bold"},"encoding":{"x":{"field":"p","type":"ordinal"},"y":{"field":"y1","type":"quantitative"},"text":{"field":"a"},"color":{"condition":{"test":"datum.a === 'C'","value":"#ffffff"},"value":"#000000"}}},
 {"data":{"name":"E"},"transform":[{"filter":"datum.p>=161&&datum.p<=240"}],"mark":{"type":"rule","color":"#bdbdbd","strokeWidth":3},"encoding":{"x":{"field":"p","type":"ordinal"},"y":{"field":"lo","type":"quantitative"},"y2":{"field":"hi"}}},
 {"data":{"name":"E"},"transform":[{"filter":"datum.p>=161&&datum.p<=240"}],"mark":{"type":"point","shape":"square","filled":true,"color":"#bdbdbd","size":45,"opacity":1},"encoding":{"x":{"field":"p","type":"ordinal"},"y":{"field":"lo","type":"quantitative"}}},
 {"data":{"name":"E"},"transform":[{"filter":"datum.p>=161&&datum.p<=240"}],"mark":{"type":"point","shape":"square","filled":true,"color":"#bdbdbd","size":45,"opacity":1},"encoding":{"x":{"field":"p","type":"ordinal"},"y":{"field":"hi","type":"quantitative"}}}
]},
{"width":{"step":44.9},"height":224,"resolve":{"scale":{"size":"independent"}},"layer":[
 {"data":{"name":"L"},"transform":[{"filter":"datum.p>=241&&datum.p<=320"},{"lookup":"p","from":{"data":{"name":"E"},"key":"p","fields":["w"]}},{"stack":"h","groupby":["p"],"sort":[{"field":"h","order":"ascending"}],"as":["y0","y1"]}],"mark":{"type":"bar"},"encoding":{"x":{"field":"p","type":"ordinal","scale":{"paddingInner":0,"paddingOuter":0},"axis":{"title":null,"labelOverlap":false,"labelExpr":"datum.value % 5 === 0 ? datum.label : ''"}},"y":{"field":"y1","type":"quantitative","scale":{"domain":[0,4.32],"nice":false},"axis":{"title":"bits","labelOverlap":false,"values":[0,1,2,3,4],"format":".1f"}},"y2":{"field":"y0"},"size":{"field":"w","type":"quantitative","scale":{"domain":[0,1],"range":[0,40]},"legend":null},"color":{"condition":[{"test":"datum.a === 'C'","value":"#e60000"},{"test":"datum.h < 0.2 || (datum.w < 0.6 && datum.h < 0.3)","value":"#5c5c5c"}],"value":"#8a8a8a"}}},
 {"data":{"name":"L"},"transform":[{"filter":"datum.p>=241&&datum.p<=320"},{"lookup":"p","from":{"data":{"name":"E"},"key":"p","fields":["w"]}},{"stack":"h","groupby":["p"],"sort":[{"field":"h","order":"ascending"}],"as":["y0","y1"]},{"filter":"datum.h >= 0.2 && datum.w >= 0.6"}],"mark":{"type":"text","baseline":"top","dy":3,"fontWeight":"bold"},"encoding":{"x":{"field":"p","type":"ordinal"},"y":{"field":"y1","type":"quantitative"},"text":{"field":"a"},"size":{"field":"h","type":"quantitative","scale":{"domain":[0.2,0.85],"range":[12,44],"clamp":true},"legend":null},"color":{"condition":{"test":"datum.a === 'C'","value":"#ffffff"},"value":"#000000"}}},
 {"data":{"name":"L"},"transform":[{"filter":"datum.p>=241&&datum.p<=320"},{"lookup":"p","from":{"data":{"name":"E"},"key":"p","fields":["w"]}},{"stack":"h","groupby":["p"],"sort":[{"field":"h","order":"ascending"}],"as":["y0","y1"]},{"filter":"datum.h >= 0.3 && datum.w >= 0.2 && datum.w < 0.6"}],"mark":{"type":"text","baseline":"top","dy":3,"fontSize":11,"fontWeight":"bold"},"encoding":{"x":{"field":"p","type":"ordinal"},"y":{"field":"y1","type":"quantitative"},"text":{"field":"a"},"color":{"condition":{"test":"datum.a === 'C'","value":"#ffffff"},"value":"#000000"}}},
 {"data":{"name":"E"},"transform":[{"filter":"datum.p>=241&&datum.p<=320"}],"mark":{"type":"rule","color":"#bdbdbd","strokeWidth":3},"encoding":{"x":{"field":"p","type":"ordinal"},"y":{"field":"lo","type":"quantitative"},"y2":{"field":"hi"}}},
 {"data":{"name":"E"},"transform":[{"filter":"datum.p>=241&&datum.p<=320"}],"mark":{"type":"point","shape":"square","filled":true,"color":"#bdbdbd","size":45,"opacity":1},"encoding":{"x":{"field":"p","type":"ordinal"},"y":{"field":"lo","type":"quantitative"}}},
 {"data":{"name":"E"},"transform":[{"filter":"datum.p>=241&&datum.p<=320"}],"mark":{"type":"point","shape":"square","filled":true,"color":"#bdbdbd","size":45,"opacity":1},"encoding":{"x":{"field":"p","type":"ordinal"},"y":{"field":"hi","type":"quantitative"}}}
]},
{"width":{"step":44.9},"height":224,"resolve":{"scale":{"size":"independent"}},"layer":[
 {"data":{"name":"L"},"transform":[{"filter":"datum.p>=321&&datum.p<=380"},{"lookup":"p","from":{"data":{"name":"E"},"key":"p","fields":["w"]}},{"stack":"h","groupby":["p"],"sort":[{"field":"h","order":"ascending"}],"as":["y0","y1"]}],"mark":{"type":"bar"},"encoding":{"x":{"field":"p","type":"ordinal","scale":{"paddingInner":0,"paddingOuter":0},"axis":{"title":null,"labelOverlap":false,"labelExpr":"datum.value % 5 === 0 ? datum.label : ''"}},"y":{"field":"y1","type":"quantitative","scale":{"domain":[0,4.32],"nice":false},"axis":{"title":"bits","labelOverlap":false,"values":[0,1,2,3,4],"format":".1f"}},"y2":{"field":"y0"},"size":{"field":"w","type":"quantitative","scale":{"domain":[0,1],"range":[0,40]},"legend":null},"color":{"condition":[{"test":"datum.a === 'C'","value":"#e60000"},{"test":"datum.h < 0.2 || (datum.w < 0.6 && datum.h < 0.3)","value":"#5c5c5c"}],"value":"#8a8a8a"}}},
 {"data":{"name":"L"},"transform":[{"filter":"datum.p>=321&&datum.p<=380"},{"lookup":"p","from":{"data":{"name":"E"},"key":"p","fields":["w"]}},{"stack":"h","groupby":["p"],"sort":[{"field":"h","order":"ascending"}],"as":["y0","y1"]},{"filter":"datum.h >= 0.2 && datum.w >= 0.6"}],"mark":{"type":"text","baseline":"top","dy":3,"fontWeight":"bold"},"encoding":{"x":{"field":"p","type":"ordinal"},"y":{"field":"y1","type":"quantitative"},"text":{"field":"a"},"size":{"field":"h","type":"quantitative","scale":{"domain":[0.2,0.85],"range":[12,44],"clamp":true},"legend":null},"color":{"condition":{"test":"datum.a === 'C'","value":"#ffffff"},"value":"#000000"}}},
 {"data":{"name":"L"},"transform":[{"filter":"datum.p>=321&&datum.p<=380"},{"lookup":"p","from":{"data":{"name":"E"},"key":"p","fields":["w"]}},{"stack":"h","groupby":["p"],"sort":[{"field":"h","order":"ascending"}],"as":["y0","y1"]},{"filter":"datum.h >= 0.3 && datum.w >= 0.2 && datum.w < 0.6"}],"mark":{"type":"text","baseline":"top","dy":3,"fontSize":11,"fontWeight":"bold"},"encoding":{"x":{"field":"p","type":"ordinal"},"y":{"field":"y1","type":"quantitative"},"text":{"field":"a"},"color":{"condition":{"test":"datum.a === 'C'","value":"#ffffff"},"value":"#000000"}}},
 {"data":{"name":"E"},"transform":[{"filter":"datum.p>=321&&datum.p<=380"}],"mark":{"type":"rule","color":"#bdbdbd","strokeWidth":3},"encoding":{"x":{"field":"p","type":"ordinal"},"y":{"field":"lo","type":"quantitative"},"y2":{"field":"hi"}}},
 {"data":{"name":"E"},"transform":[{"filter":"datum.p>=321&&datum.p<=380"}],"mark":{"type":"point","shape":"square","filled":true,"color":"#bdbdbd","size":45,"opacity":1},"encoding":{"x":{"field":"p","type":"ordinal"},"y":{"field":"lo","type":"quantitative"}}},
 {"data":{"name":"E"},"transform":[{"filter":"datum.p>=321&&datum.p<=380"}],"mark":{"type":"point","shape":"square","filled":true,"color":"#bdbdbd","size":45,"opacity":1},"encoding":{"x":{"field":"p","type":"ordinal"},"y":{"field":"hi","type":"quantitative"}}}
]}
]}
